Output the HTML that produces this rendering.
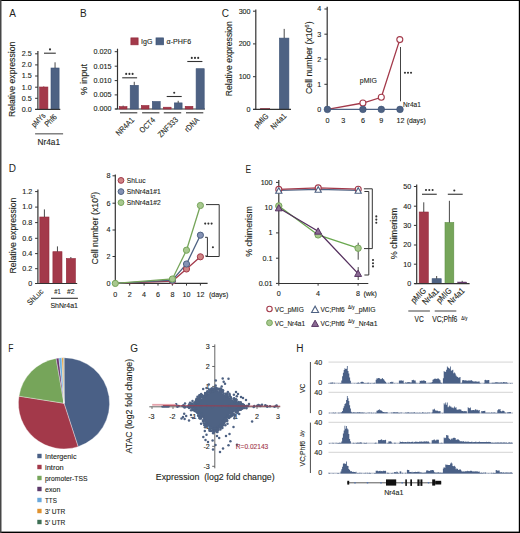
<!DOCTYPE html>
<html><head><meta charset="utf-8"><style>
html,body{margin:0;padding:0;background:#fff;}
svg{display:block;}
text{font-family:"Liberation Sans", sans-serif;}
</style></head><body>
<svg width="520" height="533" viewBox="0 0 520 533">
<rect x="0" y="0" width="520" height="533" fill="#fff"/>
<text x="9.2" y="17.2" font-size="10" text-anchor="start" fill="#231f20">A</text>
<text transform="translate(15.3 79.4) rotate(-90)" font-size="8.8" text-anchor="middle" fill="#231f20" textLength="75.3" lengthAdjust="spacingAndGlyphs" stroke="#231f20" stroke-width="0.12">Relative expression</text>
<line x1="37.9" y1="50.9" x2="37.9" y2="109.4" stroke="#333" stroke-width="1.2"/>
<line x1="35.1" y1="109.4" x2="37.9" y2="109.4" stroke="#333" stroke-width="1.0"/>
<text x="31.8" y="111.7" font-size="7.8" text-anchor="end" fill="#231f20" textLength="9.98" lengthAdjust="spacingAndGlyphs" stroke="#231f20" stroke-width="0.12">0.0</text>
<line x1="35.1" y1="98.3" x2="37.9" y2="98.3" stroke="#333" stroke-width="1.0"/>
<text x="31.8" y="100.6" font-size="7.8" text-anchor="end" fill="#231f20" textLength="9.98" lengthAdjust="spacingAndGlyphs" stroke="#231f20" stroke-width="0.12">0.5</text>
<line x1="35.1" y1="87.2" x2="37.9" y2="87.2" stroke="#333" stroke-width="1.0"/>
<text x="31.8" y="89.5" font-size="7.8" text-anchor="end" fill="#231f20" textLength="9.98" lengthAdjust="spacingAndGlyphs" stroke="#231f20" stroke-width="0.12">1.0</text>
<line x1="35.1" y1="76.0" x2="37.9" y2="76.0" stroke="#333" stroke-width="1.0"/>
<text x="31.8" y="78.3" font-size="7.8" text-anchor="end" fill="#231f20" textLength="9.98" lengthAdjust="spacingAndGlyphs" stroke="#231f20" stroke-width="0.12">1.5</text>
<line x1="35.1" y1="64.9" x2="37.9" y2="64.9" stroke="#333" stroke-width="1.0"/>
<text x="31.8" y="67.2" font-size="7.8" text-anchor="end" fill="#231f20" textLength="9.98" lengthAdjust="spacingAndGlyphs" stroke="#231f20" stroke-width="0.12">2.0</text>
<line x1="35.1" y1="53.8" x2="37.9" y2="53.8" stroke="#333" stroke-width="1.0"/>
<text x="31.8" y="56.099999999999994" font-size="7.8" text-anchor="end" fill="#231f20" textLength="9.98" lengthAdjust="spacingAndGlyphs" stroke="#231f20" stroke-width="0.12">2.5</text>
<rect x="39.6" y="87.0" width="8.30" height="22.40" fill="#a3394a" stroke="#93283b" stroke-width="0.6"/>
<line x1="43.75" y1="87" x2="43.75" y2="86.2" stroke="#93283b" stroke-width="0.7"/>
<rect x="51.0" y="68.0" width="8.10" height="41.40" fill="#4e6283" stroke="#3d5376" stroke-width="0.6"/>
<line x1="55.05" y1="68" x2="55.05" y2="62.3" stroke="#333" stroke-width="0.9"/>
<line x1="35.3" y1="109.4" x2="60.3" y2="109.4" stroke="#333" stroke-width="1.2"/>
<line x1="44" y1="53.2" x2="55.8" y2="53.2" stroke="#333" stroke-width="1.1"/>
<circle cx="50.0" cy="49.4" r="1.05" fill="#333"/>
<text transform="translate(45.9 116.2) rotate(-45)" font-size="8.0" text-anchor="end" fill="#231f20" textLength="16.2" lengthAdjust="spacingAndGlyphs" stroke="#231f20" stroke-width="0.12">pMYs</text>
<text transform="translate(57.4 117.6) rotate(-45)" font-size="8.0" text-anchor="end" fill="#231f20" textLength="13.8" lengthAdjust="spacingAndGlyphs" stroke="#231f20" stroke-width="0.12">Phf6</text>
<line x1="35.1" y1="133.8" x2="63.1" y2="133.8" stroke="#6d6d6d" stroke-width="1.3"/>
<text x="48.8" y="144.7" font-size="8.4" text-anchor="middle" fill="#231f20" textLength="22.6" lengthAdjust="spacingAndGlyphs" stroke="#231f20" stroke-width="0.12">Nr4a1</text>
<text x="80" y="17.2" font-size="10" text-anchor="start" fill="#231f20">B</text>
<rect x="130.9" y="37.9" width="7.20" height="6.90" fill="#a3394a" stroke="#93283b" stroke-width="0.7"/>
<text x="141" y="44.4" font-size="7.8" text-anchor="start" fill="#231f20" textLength="11.4" lengthAdjust="spacingAndGlyphs" stroke="#231f20" stroke-width="0.12">IgG</text>
<rect x="156.0" y="37.9" width="7.60" height="6.90" fill="#4e6283" stroke="#3d5376" stroke-width="0.7"/>
<text x="166.6" y="44.4" font-size="7.8" text-anchor="start" fill="#231f20" textLength="24.6" lengthAdjust="spacingAndGlyphs" stroke="#231f20" stroke-width="0.12">α-PHF6</text>
<text transform="translate(86.5 79.4) rotate(-90)" font-size="8.8" text-anchor="middle" fill="#231f20" textLength="31" lengthAdjust="spacingAndGlyphs" stroke="#231f20" stroke-width="0.12">% input</text>
<line x1="117.5" y1="48.7" x2="117.5" y2="109.0" stroke="#333" stroke-width="1.2"/>
<line x1="114.7" y1="109.0" x2="117.5" y2="109.0" stroke="#333" stroke-width="1.0"/>
<text x="111.4" y="111.3" font-size="7.8" text-anchor="end" fill="#231f20" textLength="17.96" lengthAdjust="spacingAndGlyphs" stroke="#231f20" stroke-width="0.12">0.000</text>
<line x1="114.7" y1="94.9" x2="117.5" y2="94.9" stroke="#333" stroke-width="1.0"/>
<text x="111.4" y="97.2" font-size="7.8" text-anchor="end" fill="#231f20" textLength="17.96" lengthAdjust="spacingAndGlyphs" stroke="#231f20" stroke-width="0.12">0.005</text>
<line x1="114.7" y1="80.6" x2="117.5" y2="80.6" stroke="#333" stroke-width="1.0"/>
<text x="111.4" y="82.89999999999999" font-size="7.8" text-anchor="end" fill="#231f20" textLength="17.96" lengthAdjust="spacingAndGlyphs" stroke="#231f20" stroke-width="0.12">0.010</text>
<line x1="114.7" y1="66.2" x2="117.5" y2="66.2" stroke="#333" stroke-width="1.0"/>
<text x="111.4" y="68.5" font-size="7.8" text-anchor="end" fill="#231f20" textLength="17.96" lengthAdjust="spacingAndGlyphs" stroke="#231f20" stroke-width="0.12">0.015</text>
<line x1="114.7" y1="51.7" x2="117.5" y2="51.7" stroke="#333" stroke-width="1.0"/>
<text x="111.4" y="54.0" font-size="7.8" text-anchor="end" fill="#231f20" textLength="17.96" lengthAdjust="spacingAndGlyphs" stroke="#231f20" stroke-width="0.12">0.020</text>
<line x1="115.3" y1="109.0" x2="205.0" y2="109.0" stroke="#333" stroke-width="1.2"/>
<rect x="119.3" y="106.6" width="7.70" height="2.40" fill="#a3394a" stroke="#93283b" stroke-width="0.6"/>
<rect x="130.2" y="85.3" width="8.10" height="23.70" fill="#4e6283" stroke="#3d5376" stroke-width="0.6"/>
<rect x="141.3" y="105.5" width="7.70" height="3.50" fill="#a3394a" stroke="#93283b" stroke-width="0.6"/>
<rect x="152.3" y="101.5" width="7.90" height="7.50" fill="#4e6283" stroke="#3d5376" stroke-width="0.6"/>
<rect x="163.5" y="107.2" width="7.60" height="1.80" fill="#a3394a" stroke="#93283b" stroke-width="0.6"/>
<rect x="174.3" y="102.9" width="7.80" height="6.10" fill="#4e6283" stroke="#3d5376" stroke-width="0.6"/>
<rect x="185.2" y="106.3" width="7.70" height="2.70" fill="#a3394a" stroke="#93283b" stroke-width="0.6"/>
<rect x="196.1" y="68.7" width="8.10" height="40.30" fill="#4e6283" stroke="#3d5376" stroke-width="0.6"/>
<line x1="134.25" y1="85.3" x2="134.25" y2="81.8" stroke="#333" stroke-width="0.9"/>
<line x1="178.2" y1="102.9" x2="178.2" y2="100.8" stroke="#333" stroke-width="0.9"/>
<line x1="123.15" y1="106.6" x2="123.15" y2="105.6" stroke="#333" stroke-width="0.9"/>
<line x1="122.2" y1="77.8" x2="137.1" y2="77.8" stroke="#333" stroke-width="1.1"/>
<circle cx="126.2" cy="73.9" r="1.05" fill="#333"/>
<circle cx="129.4" cy="73.9" r="1.05" fill="#333"/>
<circle cx="132.6" cy="73.9" r="1.05" fill="#333"/>
<line x1="166.7" y1="96.5" x2="181.7" y2="96.5" stroke="#333" stroke-width="1.1"/>
<circle cx="174.2" cy="92.8" r="1.05" fill="#333"/>
<line x1="187.3" y1="61.5" x2="202.4" y2="61.5" stroke="#333" stroke-width="1.1"/>
<circle cx="191.8" cy="57.9" r="1.05" fill="#333"/>
<circle cx="195.0" cy="57.9" r="1.05" fill="#333"/>
<circle cx="198.2" cy="57.9" r="1.05" fill="#333"/>
<line x1="120" y1="112.8" x2="137.3" y2="112.8" stroke="#333" stroke-width="1.1"/>
<line x1="142.1" y1="112.8" x2="159.4" y2="112.8" stroke="#333" stroke-width="1.1"/>
<line x1="163.8" y1="112.8" x2="181.2" y2="112.8" stroke="#333" stroke-width="1.1"/>
<line x1="186" y1="112.8" x2="203.3" y2="112.8" stroke="#333" stroke-width="1.1"/>
<text transform="translate(134.6 120.6) rotate(-45)" font-size="8.0" text-anchor="end" fill="#231f20" textLength="22.24" lengthAdjust="spacingAndGlyphs" stroke="#231f20" stroke-width="0.12">NR4A1</text>
<text transform="translate(155.6 120.6) rotate(-45)" font-size="8.0" text-anchor="end" fill="#231f20" textLength="18.4" lengthAdjust="spacingAndGlyphs" stroke="#231f20" stroke-width="0.12">OCT4</text>
<text transform="translate(178.6 120.2) rotate(-45)" font-size="8.0" text-anchor="end" fill="#231f20" textLength="24.93" lengthAdjust="spacingAndGlyphs" stroke="#231f20" stroke-width="0.12">ZNF333</text>
<text transform="translate(199.7 120.6) rotate(-45)" font-size="8.0" text-anchor="end" fill="#231f20" textLength="16.87" lengthAdjust="spacingAndGlyphs" stroke="#231f20" stroke-width="0.12">rDNA</text>
<text x="221.7" y="16.8" font-size="10" text-anchor="start" fill="#231f20">C</text>
<text transform="translate(232.0 58.8) rotate(-90)" font-size="8.8" text-anchor="middle" fill="#231f20" textLength="74.9" lengthAdjust="spacingAndGlyphs" stroke="#231f20" stroke-width="0.12">Relative expression</text>
<line x1="255.8" y1="9.4" x2="255.8" y2="109.4" stroke="#333" stroke-width="1.2"/>
<line x1="253.0" y1="109.4" x2="255.8" y2="109.4" stroke="#333" stroke-width="1.0"/>
<text x="250.6" y="111.7" font-size="7.8" text-anchor="end" fill="#231f20" textLength="3.99" lengthAdjust="spacingAndGlyphs" stroke="#231f20" stroke-width="0.12">0</text>
<line x1="253.0" y1="76.7" x2="255.8" y2="76.7" stroke="#333" stroke-width="1.0"/>
<text x="250.6" y="79.0" font-size="7.8" text-anchor="end" fill="#231f20" textLength="11.97" lengthAdjust="spacingAndGlyphs" stroke="#231f20" stroke-width="0.12">100</text>
<line x1="253.0" y1="43.9" x2="255.8" y2="43.9" stroke="#333" stroke-width="1.0"/>
<text x="250.6" y="46.199999999999996" font-size="7.8" text-anchor="end" fill="#231f20" textLength="11.97" lengthAdjust="spacingAndGlyphs" stroke="#231f20" stroke-width="0.12">200</text>
<line x1="253.0" y1="11.2" x2="255.8" y2="11.2" stroke="#333" stroke-width="1.0"/>
<text x="250.6" y="13.5" font-size="7.8" text-anchor="end" fill="#231f20" textLength="11.97" lengthAdjust="spacingAndGlyphs" stroke="#231f20" stroke-width="0.12">300</text>
<rect x="260.6" y="108.3" width="9.20" height="1.10" fill="#a3394a" stroke="#93283b" stroke-width="0.4"/>
<rect x="279.4" y="38.1" width="9.50" height="71.30" fill="#4e6283" stroke="#3d5376" stroke-width="0.6"/>
<line x1="284.2" y1="38.1" x2="284.2" y2="28.9" stroke="#333" stroke-width="0.9"/>
<line x1="253.2" y1="109.4" x2="291.0" y2="109.4" stroke="#333" stroke-width="1.2"/>
<text transform="translate(269.0 116.6) rotate(-45)" font-size="8.0" text-anchor="end" fill="#231f20" textLength="16.87" lengthAdjust="spacingAndGlyphs" stroke="#231f20" stroke-width="0.12">pMIG</text>
<text transform="translate(287.0 116.6) rotate(-45)" font-size="8.0" text-anchor="end" fill="#231f20" textLength="18.79" lengthAdjust="spacingAndGlyphs" stroke="#231f20" stroke-width="0.12">Nr4a1</text>
<text transform="translate(312.0 57.7) rotate(-90)" font-size="8.8" text-anchor="middle" fill="#231f20" textLength="72.6" lengthAdjust="spacingAndGlyphs" stroke="#231f20" stroke-width="0.12">Cell number (x10<tspan font-size="6" dy="-3">6</tspan><tspan dy="3">)</tspan></text>
<line x1="327.2" y1="6.7" x2="327.2" y2="109.4" stroke="#333" stroke-width="1.2"/>
<line x1="324.4" y1="109.4" x2="327.2" y2="109.4" stroke="#333" stroke-width="1.0"/>
<text x="321.2" y="111.7" font-size="7.8" text-anchor="end" fill="#231f20" textLength="3.99" lengthAdjust="spacingAndGlyphs" stroke="#231f20" stroke-width="0.12">0</text>
<line x1="324.4" y1="84.3" x2="327.2" y2="84.3" stroke="#333" stroke-width="1.0"/>
<text x="321.2" y="86.6" font-size="7.8" text-anchor="end" fill="#231f20" textLength="3.99" lengthAdjust="spacingAndGlyphs" stroke="#231f20" stroke-width="0.12">1</text>
<line x1="324.4" y1="59.2" x2="327.2" y2="59.2" stroke="#333" stroke-width="1.0"/>
<text x="321.2" y="61.5" font-size="7.8" text-anchor="end" fill="#231f20" textLength="3.99" lengthAdjust="spacingAndGlyphs" stroke="#231f20" stroke-width="0.12">2</text>
<line x1="324.4" y1="34.2" x2="327.2" y2="34.2" stroke="#333" stroke-width="1.0"/>
<text x="321.2" y="36.5" font-size="7.8" text-anchor="end" fill="#231f20" textLength="3.99" lengthAdjust="spacingAndGlyphs" stroke="#231f20" stroke-width="0.12">3</text>
<line x1="324.4" y1="9.0" x2="327.2" y2="9.0" stroke="#333" stroke-width="1.0"/>
<text x="321.2" y="11.3" font-size="7.8" text-anchor="end" fill="#231f20" textLength="3.99" lengthAdjust="spacingAndGlyphs" stroke="#231f20" stroke-width="0.12">4</text>
<text x="327.4" y="122.7" font-size="7.8" text-anchor="middle" fill="#231f20" textLength="3.99" lengthAdjust="spacingAndGlyphs" stroke="#231f20" stroke-width="0.12">0</text>
<text x="343.3" y="122.7" font-size="7.8" text-anchor="middle" fill="#231f20" textLength="3.99" lengthAdjust="spacingAndGlyphs" stroke="#231f20" stroke-width="0.12">3</text>
<text x="362.9" y="122.7" font-size="7.8" text-anchor="middle" fill="#231f20" textLength="3.99" lengthAdjust="spacingAndGlyphs" stroke="#231f20" stroke-width="0.12">6</text>
<text x="381.3" y="122.7" font-size="7.8" text-anchor="middle" fill="#231f20" textLength="3.99" lengthAdjust="spacingAndGlyphs" stroke="#231f20" stroke-width="0.12">9</text>
<text x="400.4" y="122.7" font-size="7.8" text-anchor="middle" fill="#231f20" textLength="7.98" lengthAdjust="spacingAndGlyphs" stroke="#231f20" stroke-width="0.12">12</text>
<text x="406.7" y="122.7" font-size="7.8" text-anchor="start" fill="#231f20" textLength="19" lengthAdjust="spacingAndGlyphs" stroke="#231f20" stroke-width="0.12">(days)</text>
<line x1="400.5" y1="47.0" x2="400.5" y2="101.3" stroke="#444" stroke-width="1.0"/>
<circle cx="404.95" cy="72.7" r="1.05" fill="#333"/>
<circle cx="408.0" cy="72.7" r="1.05" fill="#333"/>
<circle cx="411.05" cy="72.7" r="1.05" fill="#333"/>
<text x="368.3" y="82.9" font-size="8" text-anchor="middle" fill="#231f20" textLength="17" lengthAdjust="spacingAndGlyphs" stroke="#231f20" stroke-width="0.12">pMIG</text>
<text x="403.0" y="106.6" font-size="8" text-anchor="start" fill="#231f20" textLength="17.8" lengthAdjust="spacingAndGlyphs" stroke="#231f20" stroke-width="0.12">Nr4a1</text>
<polyline points="327.4,109.4 362.9,103.0 381.3,97.3 399.8,39.6" fill="none" stroke="#a3394a" stroke-width="1.3"/>
<line x1="327.4" y1="109.4" x2="400.4" y2="109.4" stroke="#4e6283" stroke-width="1.3"/>
<circle cx="362.9" cy="103.0" r="3.0" fill="#fff" stroke="#a3394a" stroke-width="1.1"/>
<circle cx="381.3" cy="97.3" r="3.0" fill="#fff" stroke="#a3394a" stroke-width="1.1"/>
<circle cx="399.8" cy="39.6" r="3.0" fill="#fff" stroke="#a3394a" stroke-width="1.1"/>
<circle cx="327.4" cy="109.4" r="3.3" fill="#4e6283" stroke="#3d5376" stroke-width="0.6"/>
<circle cx="362.9" cy="109.4" r="3.3" fill="#4e6283" stroke="#3d5376" stroke-width="0.6"/>
<circle cx="381.3" cy="109.4" r="3.3" fill="#4e6283" stroke="#3d5376" stroke-width="0.6"/>
<circle cx="400.0" cy="109.4" r="3.3" fill="#4e6283" stroke="#3d5376" stroke-width="0.6"/>
<text x="8.7" y="172.2" font-size="10" text-anchor="start" fill="#231f20">D</text>
<text transform="translate(15.8 235.6) rotate(-90)" font-size="8.8" text-anchor="middle" fill="#231f20" textLength="76" lengthAdjust="spacingAndGlyphs" stroke="#231f20" stroke-width="0.12">Relative expression</text>
<line x1="37.9" y1="189.6" x2="37.9" y2="283.5" stroke="#333" stroke-width="1.2"/>
<line x1="35.1" y1="283.5" x2="37.9" y2="283.5" stroke="#333" stroke-width="1.0"/>
<text x="32.2" y="285.8" font-size="7.8" text-anchor="end" fill="#231f20" textLength="3.99" lengthAdjust="spacingAndGlyphs" stroke="#231f20" stroke-width="0.12">0</text>
<line x1="35.1" y1="268.7" x2="37.9" y2="268.7" stroke="#333" stroke-width="1.0"/>
<text x="32.2" y="271.0" font-size="7.8" text-anchor="end" fill="#231f20" textLength="9.98" lengthAdjust="spacingAndGlyphs" stroke="#231f20" stroke-width="0.12">0.2</text>
<line x1="35.1" y1="253.6" x2="37.9" y2="253.6" stroke="#333" stroke-width="1.0"/>
<text x="32.2" y="255.9" font-size="7.8" text-anchor="end" fill="#231f20" textLength="9.98" lengthAdjust="spacingAndGlyphs" stroke="#231f20" stroke-width="0.12">0.4</text>
<line x1="35.1" y1="238.3" x2="37.9" y2="238.3" stroke="#333" stroke-width="1.0"/>
<text x="32.2" y="240.60000000000002" font-size="7.8" text-anchor="end" fill="#231f20" textLength="9.98" lengthAdjust="spacingAndGlyphs" stroke="#231f20" stroke-width="0.12">0.6</text>
<line x1="35.1" y1="222.6" x2="37.9" y2="222.6" stroke="#333" stroke-width="1.0"/>
<text x="32.2" y="224.9" font-size="7.8" text-anchor="end" fill="#231f20" textLength="9.98" lengthAdjust="spacingAndGlyphs" stroke="#231f20" stroke-width="0.12">0.8</text>
<line x1="35.1" y1="207.1" x2="37.9" y2="207.1" stroke="#333" stroke-width="1.0"/>
<text x="32.2" y="209.4" font-size="7.8" text-anchor="end" fill="#231f20" textLength="9.98" lengthAdjust="spacingAndGlyphs" stroke="#231f20" stroke-width="0.12">1.0</text>
<line x1="35.1" y1="191.6" x2="37.9" y2="191.6" stroke="#333" stroke-width="1.0"/>
<text x="32.2" y="193.9" font-size="7.8" text-anchor="end" fill="#231f20" textLength="9.98" lengthAdjust="spacingAndGlyphs" stroke="#231f20" stroke-width="0.12">1.2</text>
<rect x="39.8" y="217.0" width="9.20" height="66.50" fill="#a3394a" stroke="#93283b" stroke-width="0.6"/>
<line x1="44.4" y1="217.0" x2="44.4" y2="209.4" stroke="#333" stroke-width="0.9"/>
<rect x="52.9" y="251.7" width="9.10" height="31.80" fill="#a3394a" stroke="#93283b" stroke-width="0.6"/>
<line x1="57.45" y1="251.7" x2="57.45" y2="246.4" stroke="#333" stroke-width="0.9"/>
<rect x="66.3" y="258.5" width="9.10" height="25.00" fill="#a3394a" stroke="#93283b" stroke-width="0.6"/>
<line x1="70.85" y1="258.5" x2="70.85" y2="257.0" stroke="#333" stroke-width="0.9"/>
<line x1="35.5" y1="283.5" x2="77.2" y2="283.5" stroke="#333" stroke-width="1.2"/>
<text transform="translate(44.0 292.0) rotate(-45)" font-size="8.0" text-anchor="end" fill="#231f20" textLength="19.56" lengthAdjust="spacingAndGlyphs" stroke="#231f20" stroke-width="0.12">ShLuc</text>
<text x="57.5" y="294.0" font-size="7.8" text-anchor="middle" fill="#231f20" textLength="6.4" lengthAdjust="spacingAndGlyphs" stroke="#231f20" stroke-width="0.12">#1</text>
<text x="70.8" y="294.0" font-size="7.8" text-anchor="middle" fill="#231f20" textLength="7.6" lengthAdjust="spacingAndGlyphs" stroke="#231f20" stroke-width="0.12">#2</text>
<line x1="51.0" y1="298.3" x2="77.9" y2="298.3" stroke="#333" stroke-width="1.1"/>
<text x="64.2" y="308.3" font-size="8" text-anchor="middle" fill="#231f20" textLength="27.5" lengthAdjust="spacingAndGlyphs" stroke="#231f20" stroke-width="0.12">ShNr4a1</text>
<text transform="translate(98.2 228.1) rotate(-90)" font-size="8.8" text-anchor="middle" fill="#231f20" textLength="72.6" lengthAdjust="spacingAndGlyphs" stroke="#231f20" stroke-width="0.12">Cell number (x10<tspan font-size="6" dy="-3">5</tspan><tspan dy="3">)</tspan></text>
<line x1="115.3" y1="174.6" x2="115.3" y2="283.4" stroke="#333" stroke-width="1.2"/>
<line x1="112.5" y1="283.4" x2="115.3" y2="283.4" stroke="#333" stroke-width="1.0"/>
<text x="110.5" y="285.7" font-size="7.8" text-anchor="end" fill="#231f20" textLength="3.99" lengthAdjust="spacingAndGlyphs" stroke="#231f20" stroke-width="0.12">0</text>
<line x1="112.5" y1="256.5" x2="115.3" y2="256.5" stroke="#333" stroke-width="1.0"/>
<text x="110.5" y="258.8" font-size="7.8" text-anchor="end" fill="#231f20" textLength="3.99" lengthAdjust="spacingAndGlyphs" stroke="#231f20" stroke-width="0.12">2</text>
<line x1="112.5" y1="230.0" x2="115.3" y2="230.0" stroke="#333" stroke-width="1.0"/>
<text x="110.5" y="232.3" font-size="7.8" text-anchor="end" fill="#231f20" textLength="3.99" lengthAdjust="spacingAndGlyphs" stroke="#231f20" stroke-width="0.12">4</text>
<line x1="112.5" y1="203.2" x2="115.3" y2="203.2" stroke="#333" stroke-width="1.0"/>
<text x="110.5" y="205.5" font-size="7.8" text-anchor="end" fill="#231f20" textLength="3.99" lengthAdjust="spacingAndGlyphs" stroke="#231f20" stroke-width="0.12">6</text>
<line x1="112.5" y1="175.8" x2="115.3" y2="175.8" stroke="#333" stroke-width="1.0"/>
<text x="110.5" y="178.10000000000002" font-size="7.8" text-anchor="end" fill="#231f20" textLength="3.99" lengthAdjust="spacingAndGlyphs" stroke="#231f20" stroke-width="0.12">8</text>
<line x1="115.3" y1="283.4" x2="207.6" y2="283.4" stroke="#333" stroke-width="1.2"/>
<line x1="115.3" y1="283.4" x2="115.3" y2="285.6" stroke="#333" stroke-width="1.0"/>
<text x="115.3" y="297.0" font-size="7.8" text-anchor="middle" fill="#231f20" textLength="3.99" lengthAdjust="spacingAndGlyphs" stroke="#231f20" stroke-width="0.12">0</text>
<line x1="129.7" y1="283.4" x2="129.7" y2="285.6" stroke="#333" stroke-width="1.0"/>
<text x="129.7" y="297.0" font-size="7.8" text-anchor="middle" fill="#231f20" textLength="3.99" lengthAdjust="spacingAndGlyphs" stroke="#231f20" stroke-width="0.12">2</text>
<line x1="144.1" y1="283.4" x2="144.1" y2="285.6" stroke="#333" stroke-width="1.0"/>
<text x="144.1" y="297.0" font-size="7.8" text-anchor="middle" fill="#231f20" textLength="3.99" lengthAdjust="spacingAndGlyphs" stroke="#231f20" stroke-width="0.12">4</text>
<line x1="158.0" y1="283.4" x2="158.0" y2="285.6" stroke="#333" stroke-width="1.0"/>
<text x="158.0" y="297.0" font-size="7.8" text-anchor="middle" fill="#231f20" textLength="3.99" lengthAdjust="spacingAndGlyphs" stroke="#231f20" stroke-width="0.12">6</text>
<line x1="172.4" y1="283.4" x2="172.4" y2="285.6" stroke="#333" stroke-width="1.0"/>
<text x="172.4" y="297.0" font-size="7.8" text-anchor="middle" fill="#231f20" textLength="3.99" lengthAdjust="spacingAndGlyphs" stroke="#231f20" stroke-width="0.12">8</text>
<line x1="186.5" y1="283.4" x2="186.5" y2="285.6" stroke="#333" stroke-width="1.0"/>
<text x="186.5" y="297.0" font-size="7.8" text-anchor="middle" fill="#231f20" textLength="7.98" lengthAdjust="spacingAndGlyphs" stroke="#231f20" stroke-width="0.12">10</text>
<line x1="200.4" y1="283.4" x2="200.4" y2="285.6" stroke="#333" stroke-width="1.0"/>
<text x="200.4" y="297.0" font-size="7.8" text-anchor="middle" fill="#231f20" textLength="7.98" lengthAdjust="spacingAndGlyphs" stroke="#231f20" stroke-width="0.12">12</text>
<text x="209.0" y="297.0" font-size="7.8" text-anchor="start" fill="#231f20" textLength="19.4" lengthAdjust="spacingAndGlyphs" stroke="#231f20" stroke-width="0.12">(days)</text>
<polyline points="115.3,283.4 172.4,281.0 186.5,269.0 200.4,256.8" fill="none" stroke="#a3394a" stroke-width="1.3"/>
<polyline points="115.3,283.4 172.4,280.2 186.5,264.0 200.4,235.2" fill="none" stroke="#4e6283" stroke-width="1.3"/>
<polyline points="115.3,283.4 172.4,279.0 186.5,250.2 200.4,205.5" fill="none" stroke="#76a55a" stroke-width="1.3"/>
<circle cx="172.4" cy="281.0" r="3.1" fill="#cf8585" stroke="#a3394a" stroke-width="1.0"/>
<circle cx="186.5" cy="269.0" r="3.1" fill="#cf8585" stroke="#a3394a" stroke-width="1.0"/>
<circle cx="200.4" cy="256.8" r="3.1" fill="#cf8585" stroke="#a3394a" stroke-width="1.0"/>
<circle cx="172.4" cy="280.2" r="3.1" fill="#8592b4" stroke="#4e6283" stroke-width="1.0"/>
<circle cx="186.5" cy="264.0" r="3.1" fill="#8592b4" stroke="#4e6283" stroke-width="1.0"/>
<circle cx="200.4" cy="235.2" r="3.1" fill="#8592b4" stroke="#4e6283" stroke-width="1.0"/>
<circle cx="172.4" cy="279.0" r="3.1" fill="#a8c88f" stroke="#76a55a" stroke-width="1.0"/>
<circle cx="186.5" cy="250.2" r="3.1" fill="#a8c88f" stroke="#76a55a" stroke-width="1.0"/>
<circle cx="200.4" cy="205.5" r="3.1" fill="#a8c88f" stroke="#76a55a" stroke-width="1.0"/>
<circle cx="115.3" cy="283.4" r="3.1" fill="#a8c88f" stroke="#76a55a" stroke-width="1.0"/>
<circle cx="121.0" cy="180.4" r="2.9" fill="#cf8585" stroke="#a3394a" stroke-width="1.0"/>
<text x="126.8" y="183.20000000000002" font-size="7.8" text-anchor="start" fill="#231f20" textLength="18.8" lengthAdjust="spacingAndGlyphs" stroke="#231f20" stroke-width="0.12">ShLuc</text>
<circle cx="121.0" cy="191.6" r="2.9" fill="#8592b4" stroke="#4e6283" stroke-width="1.0"/>
<text x="126.8" y="194.4" font-size="7.8" text-anchor="start" fill="#231f20" textLength="33.8" lengthAdjust="spacingAndGlyphs" stroke="#231f20" stroke-width="0.12">ShNr4a1#1</text>
<circle cx="121.0" cy="202.6" r="2.9" fill="#a8c88f" stroke="#76a55a" stroke-width="1.0"/>
<text x="126.8" y="205.4" font-size="7.8" text-anchor="start" fill="#231f20" textLength="33.8" lengthAdjust="spacingAndGlyphs" stroke="#231f20" stroke-width="0.12">ShNr4a1#2</text>
<polyline points="206,204.6 219.2,204.6 219.2,256.5 206,256.5" fill="none" stroke="#333" stroke-width="1"/>
<polyline points="205.1,237.3 207.4,237.3 207.4,256.0 205.1,256.0" fill="none" stroke="#333" stroke-width="1"/>
<circle cx="205.20000000000002" cy="223.6" r="1.05" fill="#333"/>
<circle cx="208.4" cy="223.6" r="1.05" fill="#333"/>
<circle cx="211.6" cy="223.6" r="1.05" fill="#333"/>
<circle cx="212.9" cy="247.2" r="1.05" fill="#333"/>
<text x="245.6" y="172.5" font-size="10" text-anchor="start" fill="#231f20" textLength="5.6" lengthAdjust="spacingAndGlyphs">E</text>
<text transform="translate(251.8 231.5) rotate(-90)" font-size="9.2" text-anchor="middle" fill="#231f20" textLength="50.7" lengthAdjust="spacingAndGlyphs" stroke="#231f20" stroke-width="0.12">% chimerism</text>
<line x1="278.8" y1="180.0" x2="278.8" y2="283.4" stroke="#333" stroke-width="1.2"/>
<line x1="276.0" y1="283.4" x2="278.8" y2="283.4" stroke="#333" stroke-width="1.0"/>
<text x="272.6" y="285.7" font-size="7.8" text-anchor="end" fill="#231f20" textLength="13.97" lengthAdjust="spacingAndGlyphs" stroke="#231f20" stroke-width="0.12">0.01</text>
<line x1="276.0" y1="258.2" x2="278.8" y2="258.2" stroke="#333" stroke-width="1.0"/>
<text x="272.6" y="260.5" font-size="7.8" text-anchor="end" fill="#231f20" textLength="9.98" lengthAdjust="spacingAndGlyphs" stroke="#231f20" stroke-width="0.12">0.1</text>
<line x1="276.0" y1="232.9" x2="278.8" y2="232.9" stroke="#333" stroke-width="1.0"/>
<text x="272.6" y="235.20000000000002" font-size="7.8" text-anchor="end" fill="#231f20" textLength="3.99" lengthAdjust="spacingAndGlyphs" stroke="#231f20" stroke-width="0.12">1</text>
<line x1="276.0" y1="207.8" x2="278.8" y2="207.8" stroke="#333" stroke-width="1.0"/>
<text x="272.6" y="210.10000000000002" font-size="7.8" text-anchor="end" fill="#231f20" textLength="7.98" lengthAdjust="spacingAndGlyphs" stroke="#231f20" stroke-width="0.12">10</text>
<line x1="276.0" y1="182.4" x2="278.8" y2="182.4" stroke="#333" stroke-width="1.0"/>
<text x="272.6" y="184.70000000000002" font-size="7.8" text-anchor="end" fill="#231f20" textLength="11.97" lengthAdjust="spacingAndGlyphs" stroke="#231f20" stroke-width="0.12">100</text>
<line x1="278.8" y1="283.5" x2="368.3" y2="283.5" stroke="#333" stroke-width="1.2"/>
<line x1="278.8" y1="283.5" x2="278.8" y2="285.7" stroke="#333" stroke-width="1.0"/>
<text x="278.8" y="296.2" font-size="7.8" text-anchor="middle" fill="#231f20" textLength="3.99" lengthAdjust="spacingAndGlyphs" stroke="#231f20" stroke-width="0.12">0</text>
<line x1="318.1" y1="283.5" x2="318.1" y2="285.7" stroke="#333" stroke-width="1.0"/>
<text x="318.1" y="296.2" font-size="7.8" text-anchor="middle" fill="#231f20" textLength="3.99" lengthAdjust="spacingAndGlyphs" stroke="#231f20" stroke-width="0.12">4</text>
<line x1="358.1" y1="283.5" x2="358.1" y2="285.7" stroke="#333" stroke-width="1.0"/>
<text x="358.1" y="296.2" font-size="7.8" text-anchor="middle" fill="#231f20" textLength="3.99" lengthAdjust="spacingAndGlyphs" stroke="#231f20" stroke-width="0.12">8</text>
<text x="363.4" y="296.2" font-size="7.8" text-anchor="start" fill="#231f20" textLength="13.6" lengthAdjust="spacingAndGlyphs" stroke="#231f20" stroke-width="0.12">(wk)</text>
<line x1="358.2" y1="242.7" x2="358.2" y2="259.7" stroke="#333" stroke-width="0.9"/>
<line x1="358.2" y1="267.1" x2="358.2" y2="280.0" stroke="#333" stroke-width="0.9"/>
<polyline points="278.8,190.4 318.2,189.4 358.2,190.4" fill="none" stroke="#4e6283" stroke-width="1.3"/>
<polyline points="278.8,189.4 318.2,187.9 358.2,189.2" fill="none" stroke="#a3394a" stroke-width="1.3"/>
<polyline points="278.8,205.9 318.1,234.9 358.1,248.2" fill="none" stroke="#6aa84f" stroke-width="1.3"/>
<polyline points="278.8,208.0 318.1,231.3 358.1,273.6" fill="none" stroke="#55305e" stroke-width="1.3"/>
<circle cx="278.8" cy="205.9" r="3.2" fill="#a8c88f" stroke="#76a55a" stroke-width="1.0"/>
<circle cx="318.1" cy="234.9" r="3.2" fill="#a8c88f" stroke="#76a55a" stroke-width="1.0"/>
<circle cx="358.1" cy="248.2" r="3.2" fill="#a8c88f" stroke="#76a55a" stroke-width="1.0"/>
<polygon points="275.30,210.85 282.30,210.85 278.80,204.55" fill="#8a6a93" stroke="#4f2a5a" stroke-width="0.9"/>
<polygon points="314.60,234.15 321.60,234.15 318.10,227.85" fill="#8a6a93" stroke="#4f2a5a" stroke-width="0.9"/>
<polygon points="354.60,276.45 361.60,276.45 358.10,270.15" fill="#8a6a93" stroke="#4f2a5a" stroke-width="0.9"/>
<circle cx="278.8" cy="189.4" r="3.0" fill="#fff" stroke="#a3394a" stroke-width="1.1"/>
<circle cx="318.2" cy="187.9" r="3.0" fill="#fff" stroke="#a3394a" stroke-width="1.1"/>
<circle cx="358.2" cy="189.2" r="3.0" fill="#fff" stroke="#a3394a" stroke-width="1.1"/>
<polygon points="275.70,193.19 281.90,193.19 278.80,187.61" fill="#fff" stroke="#4e6283" stroke-width="1.1"/>
<polygon points="315.10,192.19 321.30,192.19 318.20,186.61" fill="#fff" stroke="#4e6283" stroke-width="1.1"/>
<polygon points="355.10,193.19 361.30,193.19 358.20,187.61" fill="#fff" stroke="#4e6283" stroke-width="1.1"/>
<polyline points="363.9,188.8 372.3,188.8 372.3,248.6 364.0,248.6" fill="none" stroke="#333" stroke-width="1"/>
<polyline points="364.4,191.5 368.8,191.5 368.8,275.0 364.4,275.0" fill="none" stroke="#333" stroke-width="1"/>
<circle cx="376.3" cy="216.4" r="1.05" fill="#333"/>
<circle cx="376.3" cy="219.6" r="1.05" fill="#333"/>
<circle cx="376.3" cy="222.79999999999998" r="1.05" fill="#333"/>
<circle cx="373.0" cy="260.0" r="1.05" fill="#333"/>
<circle cx="373.0" cy="263.2" r="1.05" fill="#333"/>
<circle cx="373.0" cy="266.4" r="1.05" fill="#333"/>
<circle cx="269.5" cy="309.0" r="2.7" fill="#fff" stroke="#a3394a" stroke-width="1.1"/>
<text x="274.8" y="311.8" font-size="7.8" text-anchor="start" fill="#231f20" textLength="29" lengthAdjust="spacingAndGlyphs" stroke="#231f20" stroke-width="0.12">VC_pMIG</text>
<polygon points="311.60,312.55 318.60,312.55 315.10,306.25" fill="#fff" stroke="#4e6283" stroke-width="1.1"/>
<text x="320.5" y="312.0" font-size="7.8" text-anchor="start" fill="#231f20" textLength="24.2" lengthAdjust="spacingAndGlyphs" stroke="#231f20" stroke-width="0.12">VC;Phf6</text>
<text x="348.0" y="308.6" font-size="4.8" text-anchor="start" fill="#231f20" textLength="6.5" lengthAdjust="spacingAndGlyphs" stroke="#231f20" stroke-width="0.12">Δ/y</text>
<text x="355.0" y="312.0" font-size="7.8" text-anchor="start" fill="#231f20" textLength="20.5" lengthAdjust="spacingAndGlyphs" stroke="#231f20" stroke-width="0.12">_pMIG</text>
<circle cx="269.5" cy="322.8" r="2.9" fill="#a8c88f" stroke="#76a55a" stroke-width="1.0"/>
<text x="274.8" y="325.6" font-size="7.8" text-anchor="start" fill="#231f20" textLength="30.2" lengthAdjust="spacingAndGlyphs" stroke="#231f20" stroke-width="0.12">VC_Nr4a1</text>
<polygon points="311.60,326.45 318.60,326.45 315.10,320.15" fill="#8a6a93" stroke="#4f2a5a" stroke-width="0.9"/>
<text x="320.5" y="326.0" font-size="7.8" text-anchor="start" fill="#231f20" textLength="24.2" lengthAdjust="spacingAndGlyphs" stroke="#231f20" stroke-width="0.12">VC;Phf6</text>
<text x="348.0" y="322.6" font-size="4.8" text-anchor="start" fill="#231f20" textLength="6.5" lengthAdjust="spacingAndGlyphs" stroke="#231f20" stroke-width="0.12">Δ/y</text>
<text x="355.0" y="326.0" font-size="7.8" text-anchor="start" fill="#231f20" textLength="22.5" lengthAdjust="spacingAndGlyphs" stroke="#231f20" stroke-width="0.12">_Nr4a1</text>
<text transform="translate(396.8 233.5) rotate(-90)" font-size="9.2" text-anchor="middle" fill="#231f20" textLength="51.3" lengthAdjust="spacingAndGlyphs" stroke="#231f20" stroke-width="0.12">% chimerism</text>
<line x1="416.7" y1="184.6" x2="416.7" y2="283.6" stroke="#333" stroke-width="1.2"/>
<line x1="413.9" y1="283.6" x2="416.7" y2="283.6" stroke="#333" stroke-width="1.0"/>
<text x="411.2" y="285.90000000000003" font-size="7.8" text-anchor="end" fill="#231f20" textLength="3.99" lengthAdjust="spacingAndGlyphs" stroke="#231f20" stroke-width="0.12">0</text>
<line x1="413.9" y1="264.2" x2="416.7" y2="264.2" stroke="#333" stroke-width="1.0"/>
<text x="411.2" y="266.5" font-size="7.8" text-anchor="end" fill="#231f20" textLength="7.98" lengthAdjust="spacingAndGlyphs" stroke="#231f20" stroke-width="0.12">10</text>
<line x1="413.9" y1="245.0" x2="416.7" y2="245.0" stroke="#333" stroke-width="1.0"/>
<text x="411.2" y="247.3" font-size="7.8" text-anchor="end" fill="#231f20" textLength="7.98" lengthAdjust="spacingAndGlyphs" stroke="#231f20" stroke-width="0.12">20</text>
<line x1="413.9" y1="225.4" x2="416.7" y2="225.4" stroke="#333" stroke-width="1.0"/>
<text x="411.2" y="227.70000000000002" font-size="7.8" text-anchor="end" fill="#231f20" textLength="7.98" lengthAdjust="spacingAndGlyphs" stroke="#231f20" stroke-width="0.12">30</text>
<line x1="413.9" y1="206.2" x2="416.7" y2="206.2" stroke="#333" stroke-width="1.0"/>
<text x="411.2" y="208.5" font-size="7.8" text-anchor="end" fill="#231f20" textLength="7.98" lengthAdjust="spacingAndGlyphs" stroke="#231f20" stroke-width="0.12">40</text>
<line x1="413.9" y1="186.5" x2="416.7" y2="186.5" stroke="#333" stroke-width="1.0"/>
<text x="411.2" y="188.8" font-size="7.8" text-anchor="end" fill="#231f20" textLength="7.98" lengthAdjust="spacingAndGlyphs" stroke="#231f20" stroke-width="0.12">50</text>
<rect x="419.2" y="212.0" width="9.10" height="71.60" fill="#a3394a" stroke="#93283b" stroke-width="0.6"/>
<line x1="423.75" y1="212.0" x2="423.75" y2="202.3" stroke="#333" stroke-width="0.9"/>
<rect x="432.1" y="278.7" width="9.10" height="4.90" fill="#4e6283" stroke="#3d5376" stroke-width="0.6"/>
<line x1="436.65" y1="278.7" x2="436.65" y2="276.0" stroke="#333" stroke-width="0.9"/>
<rect x="445.0" y="222.5" width="8.80" height="61.10" fill="#76a55a" stroke="#5f8f45" stroke-width="0.6"/>
<line x1="449.4" y1="222.5" x2="449.4" y2="200.8" stroke="#333" stroke-width="0.9"/>
<rect x="457.7" y="282.0" width="9.00" height="1.60" fill="#6b3f73" stroke="#55305e" stroke-width="0.4"/>
<line x1="462.2" y1="282.0" x2="462.2" y2="280.8" stroke="#333" stroke-width="0.9"/>
<line x1="414.5" y1="283.7" x2="469.6" y2="283.7" stroke="#333" stroke-width="1.2"/>
<line x1="422.0" y1="194.25" x2="436.75" y2="194.25" stroke="#333" stroke-width="1.1"/>
<circle cx="426.0" cy="190.0" r="1.05" fill="#333"/>
<circle cx="429.3" cy="190.0" r="1.05" fill="#333"/>
<circle cx="432.6" cy="190.0" r="1.05" fill="#333"/>
<line x1="447.8" y1="194.25" x2="462.7" y2="194.25" stroke="#333" stroke-width="1.1"/>
<circle cx="454.3" cy="190.5" r="1.05" fill="#333"/>
<text transform="translate(426.6 291.3) rotate(-45)" font-size="8.6" text-anchor="end" fill="#231f20" textLength="17.6" lengthAdjust="spacingAndGlyphs" stroke="#231f20" stroke-width="0.12">pMIG</text>
<text transform="translate(439.6 291.3) rotate(-45)" font-size="8.6" text-anchor="end" fill="#231f20" textLength="19.61" lengthAdjust="spacingAndGlyphs" stroke="#231f20" stroke-width="0.12">Nr4a1</text>
<text transform="translate(452.2 291.3) rotate(-45)" font-size="8.6" text-anchor="end" fill="#231f20" textLength="17.6" lengthAdjust="spacingAndGlyphs" stroke="#231f20" stroke-width="0.12">pMIG</text>
<text transform="translate(465.2 291.3) rotate(-45)" font-size="8.6" text-anchor="end" fill="#231f20" textLength="19.61" lengthAdjust="spacingAndGlyphs" stroke="#231f20" stroke-width="0.12">Nr4a1</text>
<line x1="408.3" y1="311.0" x2="429.9" y2="311.0" stroke="#6d6d6d" stroke-width="1.3"/>
<line x1="434.7" y1="311.0" x2="456.3" y2="311.0" stroke="#6d6d6d" stroke-width="1.3"/>
<text x="419.2" y="322.0" font-size="8.2" text-anchor="middle" fill="#231f20" textLength="9.2" lengthAdjust="spacingAndGlyphs" stroke="#231f20" stroke-width="0.12">VC</text>
<text x="432.2" y="322.0" font-size="8.2" text-anchor="start" fill="#231f20" textLength="25.2" lengthAdjust="spacingAndGlyphs" stroke="#231f20" stroke-width="0.12">VC;Phf6</text>
<text x="461.2" y="319.5" font-size="4.8" text-anchor="start" fill="#231f20" textLength="6.1" lengthAdjust="spacingAndGlyphs" stroke="#231f20" stroke-width="0.12">Δ/y</text>
<text x="8.3" y="352.0" font-size="10" text-anchor="start" fill="#231f20" textLength="5.2" lengthAdjust="spacingAndGlyphs">F</text>
<path d="M64.0,403.3 L64.00,357.70 A45.6,45.6 0 0 1 78.09,446.67 Z" fill="#4a6086" stroke="#fff" stroke-width="0.35" stroke-linejoin="round"/>
<path d="M64.0,403.3 L78.09,446.67 A45.6,45.6 0 0 1 18.96,396.17 Z" fill="#a3394a" stroke="#fff" stroke-width="0.35" stroke-linejoin="round"/>
<path d="M64.0,403.3 L18.96,396.17 A45.6,45.6 0 0 1 56.08,358.39 Z" fill="#76a55a" stroke="#fff" stroke-width="0.35" stroke-linejoin="round"/>
<path d="M64.0,403.3 L56.08,358.39 A45.6,45.6 0 0 1 58.92,357.98 Z" fill="#6b3a70" stroke="#fff" stroke-width="0.35" stroke-linejoin="round"/>
<path d="M64.0,403.3 L58.92,357.98 A45.6,45.6 0 0 1 61.85,357.75 Z" fill="#6aaee0" stroke="#fff" stroke-width="0.35" stroke-linejoin="round"/>
<path d="M64.0,403.3 L61.85,357.75 A45.6,45.6 0 0 1 63.68,357.70 Z" fill="#e6992f" stroke="#fff" stroke-width="0.35" stroke-linejoin="round"/>
<path d="M64.0,403.3 L63.68,357.70 A45.6,45.6 0 0 1 64.00,357.70 Z" fill="#3f7356" stroke="#fff" stroke-width="0.35" stroke-linejoin="round"/>
<rect x="37.3" y="453.8" width="4.30" height="4.40" fill="#4a6086"/>
<text x="45.0" y="458.7" font-size="7.6" text-anchor="start" fill="#231f20" textLength="31.5" lengthAdjust="spacingAndGlyphs" stroke="#231f20" stroke-width="0.12">Intergenic</text>
<rect x="37.3" y="464.8" width="4.30" height="4.40" fill="#a3394a"/>
<text x="45.0" y="469.7" font-size="7.6" text-anchor="start" fill="#231f20" textLength="18.7" lengthAdjust="spacingAndGlyphs" stroke="#231f20" stroke-width="0.12">intron</text>
<rect x="37.3" y="475.8" width="4.30" height="4.40" fill="#76a55a"/>
<text x="45.0" y="480.7" font-size="7.6" text-anchor="start" fill="#231f20" textLength="42.4" lengthAdjust="spacingAndGlyphs" stroke="#231f20" stroke-width="0.12">promoter-TSS</text>
<rect x="37.3" y="486.8" width="4.30" height="4.40" fill="#5d3a6b"/>
<text x="45.0" y="491.7" font-size="7.6" text-anchor="start" fill="#231f20" textLength="15.4" lengthAdjust="spacingAndGlyphs" stroke="#231f20" stroke-width="0.12">exon</text>
<rect x="37.3" y="497.8" width="4.30" height="4.40" fill="#6aa8dc"/>
<text x="45.0" y="502.7" font-size="7.6" text-anchor="start" fill="#231f20" textLength="11.8" lengthAdjust="spacingAndGlyphs" stroke="#231f20" stroke-width="0.12">TTS</text>
<rect x="37.3" y="508.8" width="4.30" height="4.40" fill="#e0922f"/>
<text x="45.0" y="513.7" font-size="7.6" text-anchor="start" fill="#231f20" textLength="20.3" lengthAdjust="spacingAndGlyphs" stroke="#231f20" stroke-width="0.12">3’ UTR</text>
<rect x="37.3" y="519.8" width="4.30" height="4.40" fill="#3e7055"/>
<text x="45.0" y="524.7" font-size="7.6" text-anchor="start" fill="#231f20" textLength="20.3" lengthAdjust="spacingAndGlyphs" stroke="#231f20" stroke-width="0.12">5’ UTR</text>
<text x="130.2" y="351.7" font-size="10" text-anchor="start" fill="#231f20">G</text>
<text transform="translate(132.1 406.2) rotate(-90)" font-size="9.5" text-anchor="middle" fill="#231f20" textLength="94.5" lengthAdjust="spacingAndGlyphs" stroke="#231f20" stroke-width="0.12">ATAC (log2 fold change)</text>
<text x="215.2" y="480.2" font-size="9.5" text-anchor="middle" fill="#231f20" textLength="118.8" lengthAdjust="spacingAndGlyphs" stroke="#231f20" stroke-width="0.12">Expression&#160; (log2 fold change)</text>
<line x1="214.8" y1="344.4" x2="214.8" y2="468.3" stroke="#555" stroke-width="0.9"/>
<line x1="212.2" y1="346.49" x2="214.8" y2="346.49" stroke="#555" stroke-width="0.9"/>
<line x1="212.2" y1="366.46" x2="214.8" y2="366.46" stroke="#555" stroke-width="0.9"/>
<line x1="212.2" y1="386.42999999999995" x2="214.8" y2="386.42999999999995" stroke="#555" stroke-width="0.9"/>
<line x1="212.2" y1="426.37" x2="214.8" y2="426.37" stroke="#555" stroke-width="0.9"/>
<line x1="212.2" y1="446.34" x2="214.8" y2="446.34" stroke="#555" stroke-width="0.9"/>
<line x1="212.2" y1="466.30999999999995" x2="214.8" y2="466.30999999999995" stroke="#555" stroke-width="0.9"/>
<line x1="149.3" y1="406.8" x2="280.2" y2="406.8" stroke="#555" stroke-width="0.9"/>
<line x1="152.0" y1="406.8" x2="152.0" y2="409.0" stroke="#555" stroke-width="0.8"/>
<line x1="173.0" y1="406.8" x2="173.0" y2="409.0" stroke="#555" stroke-width="0.8"/>
<line x1="194.0" y1="406.8" x2="194.0" y2="409.0" stroke="#555" stroke-width="0.8"/>
<line x1="236.0" y1="406.8" x2="236.0" y2="409.0" stroke="#555" stroke-width="0.8"/>
<line x1="257.0" y1="406.8" x2="257.0" y2="409.0" stroke="#555" stroke-width="0.8"/>
<line x1="278.0" y1="406.8" x2="278.0" y2="409.0" stroke="#555" stroke-width="0.8"/>
<text x="151.4" y="418.6" font-size="7.8" text-anchor="middle" fill="#231f20" textLength="6.38" lengthAdjust="spacingAndGlyphs" stroke="#231f20" stroke-width="0.12">-3</text>
<text x="172.4" y="418.6" font-size="7.8" text-anchor="middle" fill="#231f20" textLength="6.38" lengthAdjust="spacingAndGlyphs" stroke="#231f20" stroke-width="0.12">-2</text>
<text x="193.4" y="418.6" font-size="7.8" text-anchor="middle" fill="#231f20" textLength="6.38" lengthAdjust="spacingAndGlyphs" stroke="#231f20" stroke-width="0.12">-1</text>
<text x="236.0" y="418.6" font-size="7.8" text-anchor="middle" fill="#231f20" textLength="3.99" lengthAdjust="spacingAndGlyphs" stroke="#231f20" stroke-width="0.12">1</text>
<text x="257.0" y="418.6" font-size="7.8" text-anchor="middle" fill="#231f20" textLength="3.99" lengthAdjust="spacingAndGlyphs" stroke="#231f20" stroke-width="0.12">2</text>
<text x="278.0" y="418.6" font-size="7.8" text-anchor="middle" fill="#231f20" textLength="3.99" lengthAdjust="spacingAndGlyphs" stroke="#231f20" stroke-width="0.12">3</text>
<text x="209.8" y="348.99" font-size="7.8" text-anchor="end" fill="#231f20" textLength="3.99" lengthAdjust="spacingAndGlyphs" stroke="#231f20" stroke-width="0.12">3</text>
<text x="209.8" y="368.96" font-size="7.8" text-anchor="end" fill="#231f20" textLength="3.99" lengthAdjust="spacingAndGlyphs" stroke="#231f20" stroke-width="0.12">2</text>
<text x="209.8" y="388.92999999999995" font-size="7.8" text-anchor="end" fill="#231f20" textLength="3.99" lengthAdjust="spacingAndGlyphs" stroke="#231f20" stroke-width="0.12">1</text>
<text x="209.8" y="428.87" font-size="7.8" text-anchor="end" fill="#231f20" textLength="6.38" lengthAdjust="spacingAndGlyphs" stroke="#231f20" stroke-width="0.12">-1</text>
<text x="209.8" y="448.84" font-size="7.8" text-anchor="end" fill="#231f20" textLength="6.38" lengthAdjust="spacingAndGlyphs" stroke="#231f20" stroke-width="0.12">-2</text>
<text x="209.8" y="468.80999999999995" font-size="7.8" text-anchor="end" fill="#231f20" textLength="6.38" lengthAdjust="spacingAndGlyphs" stroke="#231f20" stroke-width="0.12">-3</text>
<polygon points="214.8,389.7 217.1,390.2 227.3,395.9 235.2,401.6 240.9,404.5 245.0,406.7 237.4,409.5 229.4,415.1 223.9,420.9 219.4,427.6 214.8,429.8 206.8,425.3 202.4,417.4 199.0,411.8 194.5,408.3 191.2,406.6 196.7,402.8 204.7,395.9" fill="#4e6283"/>
<g fill="#4e6283">
<circle cx="233.8" cy="398.9" r="1.25"/>
<circle cx="232.5" cy="415.1" r="1.25"/>
<circle cx="216.1" cy="390.7" r="1.25"/>
<circle cx="220.8" cy="427.4" r="1.25"/>
<circle cx="238.4" cy="409.2" r="1.25"/>
<circle cx="220.2" cy="389.6" r="1.25"/>
<circle cx="228.5" cy="417.4" r="1.25"/>
<circle cx="235.2" cy="402.0" r="1.25"/>
<circle cx="242.1" cy="408.8" r="1.25"/>
<circle cx="230.2" cy="416.5" r="1.25"/>
<circle cx="195.2" cy="408.1" r="1.25"/>
<circle cx="212.0" cy="428.3" r="1.25"/>
<circle cx="201.0" cy="418.4" r="1.25"/>
<circle cx="200.1" cy="415.3" r="1.25"/>
<circle cx="199.2" cy="413.1" r="1.25"/>
<circle cx="196.4" cy="400.8" r="1.25"/>
<circle cx="221.8" cy="389.8" r="1.25"/>
<circle cx="195.5" cy="403.0" r="1.25"/>
<circle cx="236.9" cy="412.0" r="1.25"/>
<circle cx="198.9" cy="399.5" r="1.25"/>
<circle cx="241.3" cy="403.8" r="1.25"/>
<circle cx="205.4" cy="424.5" r="1.25"/>
<circle cx="204.4" cy="425.2" r="1.25"/>
<circle cx="239.8" cy="409.4" r="1.25"/>
<circle cx="215.5" cy="387.7" r="1.25"/>
<circle cx="236.0" cy="401.6" r="1.25"/>
<circle cx="195.9" cy="402.2" r="1.25"/>
<circle cx="189.1" cy="408.1" r="1.25"/>
<circle cx="237.0" cy="409.2" r="1.25"/>
<circle cx="246.4" cy="408.3" r="1.25"/>
<circle cx="200.1" cy="395.0" r="1.25"/>
<circle cx="202.3" cy="395.2" r="1.25"/>
<circle cx="216.2" cy="429.1" r="1.25"/>
<circle cx="244.3" cy="407.9" r="1.25"/>
<circle cx="204.0" cy="396.4" r="1.25"/>
<circle cx="241.3" cy="405.2" r="1.25"/>
<circle cx="202.2" cy="395.7" r="1.25"/>
<circle cx="227.8" cy="396.8" r="1.25"/>
<circle cx="198.9" cy="413.1" r="1.25"/>
<circle cx="201.1" cy="423.7" r="1.25"/>
<circle cx="205.9" cy="393.6" r="1.25"/>
<circle cx="241.0" cy="407.7" r="1.25"/>
<circle cx="221.7" cy="386.5" r="1.25"/>
<circle cx="227.4" cy="416.3" r="1.25"/>
<circle cx="203.0" cy="416.4" r="1.25"/>
<circle cx="238.6" cy="402.0" r="1.25"/>
<circle cx="226.8" cy="419.5" r="1.25"/>
<circle cx="195.1" cy="408.9" r="1.25"/>
<circle cx="196.4" cy="400.7" r="1.25"/>
<circle cx="191.0" cy="407.5" r="1.25"/>
<circle cx="229.1" cy="418.0" r="1.25"/>
<circle cx="201.3" cy="416.4" r="1.25"/>
<circle cx="221.7" cy="426.1" r="1.25"/>
<circle cx="213.5" cy="432.2" r="1.25"/>
<circle cx="217.4" cy="428.3" r="1.25"/>
<circle cx="221.2" cy="391.8" r="1.25"/>
<circle cx="217.7" cy="429.0" r="1.25"/>
<circle cx="221.0" cy="389.3" r="1.25"/>
<circle cx="238.0" cy="408.7" r="1.25"/>
<circle cx="215.0" cy="389.9" r="1.25"/>
<circle cx="223.0" cy="390.3" r="1.25"/>
<circle cx="214.1" cy="390.4" r="1.25"/>
<circle cx="225.9" cy="394.4" r="1.25"/>
<circle cx="236.3" cy="401.1" r="1.25"/>
<circle cx="234.3" cy="418.2" r="1.25"/>
<circle cx="190.4" cy="406.3" r="1.25"/>
<circle cx="207.9" cy="392.7" r="1.25"/>
<circle cx="194.8" cy="404.5" r="1.25"/>
<circle cx="212.7" cy="389.5" r="1.25"/>
<circle cx="217.5" cy="428.1" r="1.25"/>
<circle cx="231.5" cy="415.6" r="1.25"/>
<circle cx="238.5" cy="409.1" r="1.25"/>
<circle cx="193.7" cy="410.1" r="1.25"/>
<circle cx="244.1" cy="406.1" r="1.25"/>
<circle cx="191.6" cy="404.8" r="1.25"/>
<circle cx="196.0" cy="410.0" r="1.25"/>
<circle cx="229.7" cy="394.9" r="1.25"/>
<circle cx="211.9" cy="389.8" r="1.25"/>
<circle cx="200.6" cy="396.7" r="1.25"/>
<circle cx="188.5" cy="406.2" r="1.25"/>
<circle cx="206.8" cy="393.8" r="1.25"/>
<circle cx="234.4" cy="401.6" r="1.25"/>
<circle cx="205.1" cy="427.2" r="1.25"/>
<circle cx="215.7" cy="389.1" r="1.25"/>
<circle cx="223.3" cy="422.1" r="1.25"/>
<circle cx="233.9" cy="394.7" r="1.25"/>
<circle cx="238.9" cy="404.0" r="1.25"/>
<circle cx="192.8" cy="409.9" r="1.25"/>
<circle cx="232.8" cy="413.4" r="1.25"/>
<circle cx="206.4" cy="394.4" r="1.25"/>
<circle cx="195.8" cy="401.1" r="1.25"/>
<circle cx="238.3" cy="410.6" r="1.25"/>
<circle cx="242.6" cy="404.7" r="1.25"/>
<circle cx="199.2" cy="416.4" r="1.25"/>
<circle cx="236.4" cy="412.6" r="1.25"/>
<circle cx="215.0" cy="430.3" r="1.25"/>
<circle cx="232.1" cy="413.1" r="1.25"/>
<circle cx="219.2" cy="389.1" r="1.25"/>
<circle cx="216.4" cy="390.2" r="1.25"/>
<circle cx="247.6" cy="406.2" r="1.25"/>
<circle cx="198.3" cy="412.0" r="1.25"/>
<circle cx="234.6" cy="415.9" r="1.25"/>
<circle cx="238.0" cy="408.8" r="1.25"/>
<circle cx="207.4" cy="391.6" r="1.25"/>
<circle cx="235.6" cy="412.1" r="1.25"/>
<circle cx="224.2" cy="420.0" r="1.25"/>
<circle cx="232.6" cy="414.1" r="1.25"/>
<circle cx="228.0" cy="416.9" r="1.25"/>
<circle cx="236.2" cy="399.4" r="1.25"/>
<circle cx="239.2" cy="414.1" r="1.25"/>
<circle cx="196.0" cy="410.7" r="1.25"/>
<circle cx="209.7" cy="428.6" r="1.25"/>
<circle cx="212.0" cy="430.6" r="1.25"/>
<circle cx="225.7" cy="393.7" r="1.25"/>
<circle cx="218.2" cy="389.5" r="1.25"/>
<circle cx="206.2" cy="395.0" r="1.25"/>
<circle cx="200.9" cy="413.3" r="1.25"/>
<circle cx="209.9" cy="428.5" r="1.25"/>
<circle cx="215.5" cy="389.1" r="1.25"/>
<circle cx="237.5" cy="403.0" r="1.25"/>
<circle cx="197.7" cy="403.1" r="1.25"/>
<circle cx="231.0" cy="416.3" r="1.25"/>
<circle cx="192.9" cy="407.5" r="1.25"/>
<circle cx="212.5" cy="390.6" r="1.25"/>
<circle cx="243.4" cy="407.9" r="1.25"/>
<circle cx="210.4" cy="430.8" r="1.25"/>
<circle cx="213.2" cy="388.6" r="1.25"/>
<circle cx="211.6" cy="388.7" r="1.25"/>
<circle cx="196.7" cy="411.6" r="1.25"/>
<circle cx="223.0" cy="424.6" r="1.25"/>
<circle cx="198.1" cy="402.9" r="1.25"/>
<circle cx="196.1" cy="408.7" r="1.25"/>
<circle cx="198.3" cy="401.9" r="1.25"/>
<circle cx="213.3" cy="430.7" r="1.25"/>
<circle cx="191.0" cy="405.1" r="1.25"/>
<circle cx="197.1" cy="401.3" r="1.25"/>
<circle cx="234.8" cy="415.2" r="1.25"/>
<circle cx="194.6" cy="411.0" r="1.25"/>
<circle cx="191.6" cy="403.6" r="1.25"/>
<circle cx="231.5" cy="416.1" r="1.25"/>
<circle cx="200.7" cy="413.8" r="1.25"/>
<circle cx="204.2" cy="396.0" r="1.25"/>
<circle cx="237.1" cy="411.8" r="1.25"/>
<circle cx="242.5" cy="404.7" r="1.25"/>
<circle cx="191.1" cy="410.2" r="1.25"/>
<circle cx="199.5" cy="400.4" r="1.25"/>
<circle cx="196.6" cy="398.7" r="1.25"/>
<circle cx="229.3" cy="417.3" r="1.25"/>
<circle cx="224.9" cy="420.9" r="1.25"/>
<circle cx="210.9" cy="391.7" r="1.25"/>
<circle cx="225.3" cy="425.3" r="1.25"/>
<circle cx="244.3" cy="406.1" r="1.25"/>
<circle cx="203.1" cy="420.3" r="1.25"/>
<circle cx="204.5" cy="423.8" r="1.25"/>
<circle cx="198.6" cy="402.0" r="1.25"/>
<circle cx="205.1" cy="393.9" r="1.25"/>
<circle cx="228.0" cy="415.3" r="1.25"/>
<circle cx="215.1" cy="388.7" r="1.25"/>
<circle cx="203.9" cy="423.2" r="1.25"/>
<circle cx="192.5" cy="403.8" r="1.25"/>
<circle cx="239.0" cy="409.4" r="1.25"/>
<circle cx="205.1" cy="392.9" r="1.25"/>
<circle cx="234.2" cy="398.3" r="1.25"/>
<circle cx="236.8" cy="396.3" r="1.25"/>
<circle cx="240.0" cy="409.5" r="1.25"/>
<circle cx="206.0" cy="424.5" r="1.25"/>
<circle cx="221.1" cy="391.6" r="1.25"/>
<circle cx="197.5" cy="396.8" r="1.25"/>
<circle cx="209.8" cy="426.2" r="1.25"/>
<circle cx="199.2" cy="396.9" r="1.25"/>
<circle cx="213.2" cy="391.2" r="1.25"/>
<circle cx="200.7" cy="414.8" r="1.25"/>
<circle cx="205.7" cy="424.5" r="1.25"/>
<circle cx="220.5" cy="426.5" r="1.25"/>
<circle cx="243.9" cy="405.1" r="1.25"/>
<circle cx="223.2" cy="420.7" r="1.25"/>
<circle cx="197.1" cy="402.0" r="1.25"/>
<circle cx="207.4" cy="424.9" r="1.25"/>
<circle cx="197.4" cy="399.9" r="1.25"/>
<circle cx="223.2" cy="425.0" r="1.25"/>
<circle cx="207.4" cy="391.5" r="1.25"/>
<circle cx="211.4" cy="390.4" r="1.25"/>
<circle cx="209.8" cy="429.3" r="1.25"/>
<circle cx="194.5" cy="407.9" r="1.25"/>
<circle cx="211.9" cy="388.4" r="1.25"/>
<circle cx="227.1" cy="417.0" r="1.25"/>
<circle cx="213.8" cy="429.6" r="1.25"/>
<circle cx="201.0" cy="417.1" r="1.25"/>
<circle cx="206.7" cy="426.7" r="1.25"/>
<circle cx="207.4" cy="393.1" r="1.25"/>
<circle cx="201.2" cy="393.9" r="1.25"/>
<circle cx="199.4" cy="418.1" r="1.25"/>
<circle cx="201.2" cy="415.3" r="1.25"/>
<circle cx="212.8" cy="391.1" r="1.25"/>
<circle cx="230.7" cy="397.6" r="1.25"/>
<circle cx="200.5" cy="397.4" r="1.25"/>
<circle cx="194.9" cy="402.4" r="1.25"/>
<circle cx="218.3" cy="429.9" r="1.25"/>
<circle cx="222.9" cy="391.8" r="1.25"/>
<circle cx="216.0" cy="387.7" r="1.25"/>
<circle cx="196.6" cy="411.2" r="1.25"/>
<circle cx="196.3" cy="399.8" r="1.25"/>
<circle cx="235.7" cy="399.9" r="1.25"/>
<circle cx="197.6" cy="400.5" r="1.25"/>
<circle cx="217.6" cy="388.6" r="1.25"/>
<circle cx="190.3" cy="406.6" r="1.25"/>
<circle cx="220.2" cy="391.4" r="1.25"/>
<circle cx="233.5" cy="414.0" r="1.25"/>
<circle cx="217.8" cy="427.1" r="1.25"/>
<circle cx="229.4" cy="393.8" r="1.25"/>
<circle cx="195.9" cy="411.3" r="1.25"/>
<circle cx="209.3" cy="392.6" r="1.25"/>
<circle cx="220.4" cy="429.5" r="1.25"/>
<circle cx="213.2" cy="433.2" r="1.25"/>
<circle cx="215.6" cy="385.5" r="1.25"/>
<circle cx="241.4" cy="404.0" r="1.25"/>
<circle cx="223.6" cy="393.6" r="1.25"/>
<circle cx="226.3" cy="417.8" r="1.25"/>
<circle cx="220.0" cy="427.7" r="1.25"/>
<circle cx="227.2" cy="394.2" r="1.25"/>
<circle cx="199.3" cy="395.2" r="1.25"/>
<circle cx="227.9" cy="392.1" r="1.25"/>
<circle cx="226.4" cy="421.0" r="1.25"/>
<circle cx="224.0" cy="423.2" r="1.25"/>
<circle cx="222.4" cy="428.1" r="1.25"/>
<circle cx="210.2" cy="428.2" r="1.25"/>
<circle cx="211.1" cy="390.5" r="1.25"/>
<circle cx="202.6" cy="396.8" r="1.25"/>
<circle cx="207.2" cy="425.4" r="1.25"/>
<circle cx="223.2" cy="420.4" r="1.25"/>
<circle cx="198.2" cy="398.5" r="1.25"/>
<circle cx="212.8" cy="429.7" r="1.25"/>
<circle cx="204.5" cy="396.5" r="1.25"/>
<circle cx="222.7" cy="424.6" r="1.25"/>
<circle cx="226.6" cy="396.5" r="1.25"/>
<circle cx="237.6" cy="410.4" r="1.25"/>
<circle cx="217.5" cy="432.1" r="1.25"/>
<circle cx="191.9" cy="404.6" r="1.25"/>
<circle cx="232.1" cy="414.2" r="1.25"/>
<circle cx="200.3" cy="398.9" r="1.25"/>
<circle cx="222.2" cy="392.0" r="1.25"/>
<circle cx="199.0" cy="399.4" r="1.25"/>
<circle cx="212.6" cy="391.4" r="1.25"/>
<circle cx="192.3" cy="404.3" r="1.25"/>
<circle cx="236.0" cy="399.6" r="1.25"/>
<circle cx="194.4" cy="402.7" r="1.25"/>
<circle cx="203.1" cy="421.4" r="1.25"/>
<circle cx="237.3" cy="411.8" r="1.25"/>
<circle cx="194.9" cy="403.8" r="1.25"/>
<circle cx="239.2" cy="402.8" r="1.25"/>
<circle cx="214.1" cy="432.0" r="1.25"/>
<circle cx="222.0" cy="427.1" r="1.25"/>
<circle cx="195.0" cy="408.1" r="1.25"/>
<circle cx="216.8" cy="431.9" r="1.25"/>
<circle cx="241.8" cy="405.2" r="1.25"/>
<circle cx="227.3" cy="395.4" r="1.25"/>
<circle cx="201.7" cy="397.3" r="1.25"/>
<circle cx="224.6" cy="419.1" r="1.25"/>
<circle cx="194.8" cy="409.5" r="1.25"/>
<circle cx="236.6" cy="402.9" r="1.25"/>
<circle cx="198.1" cy="413.8" r="1.25"/>
<circle cx="230.5" cy="396.9" r="1.25"/>
<circle cx="196.5" cy="400.8" r="1.25"/>
<circle cx="246.3" cy="406.5" r="1.25"/>
<circle cx="199.3" cy="399.7" r="1.25"/>
<circle cx="234.5" cy="414.4" r="1.25"/>
<circle cx="220.7" cy="424.8" r="1.25"/>
<circle cx="209.0" cy="389.8" r="1.25"/>
<circle cx="195.8" cy="410.8" r="1.25"/>
<circle cx="226.8" cy="393.8" r="1.25"/>
<circle cx="190.5" cy="407.1" r="1.25"/>
<circle cx="243.5" cy="405.3" r="1.25"/>
<circle cx="212.1" cy="389.1" r="1.25"/>
<circle cx="196.2" cy="411.2" r="1.25"/>
<circle cx="197.2" cy="412.8" r="1.25"/>
<circle cx="211.1" cy="431.1" r="1.25"/>
<circle cx="213.6" cy="389.4" r="1.25"/>
<circle cx="222.6" cy="425.2" r="1.25"/>
<circle cx="244.7" cy="406.6" r="1.25"/>
<circle cx="215.0" cy="430.5" r="1.25"/>
<circle cx="205.7" cy="393.5" r="1.25"/>
<circle cx="214.6" cy="390.8" r="1.25"/>
<circle cx="231.1" cy="415.3" r="1.25"/>
<circle cx="211.3" cy="389.4" r="1.25"/>
<circle cx="209.7" cy="429.7" r="1.25"/>
<circle cx="224.1" cy="422.8" r="1.25"/>
<circle cx="229.4" cy="416.2" r="1.25"/>
<circle cx="237.7" cy="412.9" r="1.25"/>
<circle cx="239.4" cy="404.6" r="1.25"/>
<circle cx="192.4" cy="408.5" r="1.25"/>
<circle cx="222.4" cy="425.3" r="1.25"/>
<circle cx="235.7" cy="411.2" r="1.25"/>
<circle cx="227.3" cy="420.7" r="1.25"/>
<circle cx="231.8" cy="414.2" r="1.25"/>
<circle cx="215.9" cy="429.2" r="1.25"/>
<circle cx="216.7" cy="431.0" r="1.25"/>
<circle cx="215.0" cy="429.8" r="1.25"/>
<circle cx="205.9" cy="423.2" r="1.25"/>
<circle cx="194.3" cy="405.1" r="1.25"/>
<circle cx="222.2" cy="424.4" r="1.25"/>
<circle cx="198.1" cy="415.7" r="1.25"/>
<circle cx="198.3" cy="411.8" r="1.25"/>
<circle cx="224.9" cy="421.5" r="1.25"/>
<circle cx="237.8" cy="409.2" r="1.25"/>
<circle cx="210.3" cy="392.2" r="1.25"/>
<circle cx="219.8" cy="390.4" r="1.25"/>
<circle cx="191.4" cy="404.5" r="1.25"/>
<circle cx="234.4" cy="399.7" r="1.25"/>
<circle cx="222.8" cy="423.0" r="1.25"/>
<circle cx="204.6" cy="420.8" r="1.25"/>
<circle cx="210.2" cy="389.7" r="1.25"/>
<circle cx="196.3" cy="411.0" r="1.25"/>
<circle cx="225.9" cy="418.4" r="1.25"/>
<circle cx="233.7" cy="398.9" r="1.25"/>
<circle cx="239.5" cy="404.7" r="1.25"/>
<circle cx="216.9" cy="429.0" r="1.25"/>
<circle cx="234.5" cy="402.0" r="1.25"/>
<circle cx="216.1" cy="428.8" r="1.25"/>
<circle cx="199.9" cy="418.5" r="1.25"/>
<circle cx="220.6" cy="388.5" r="1.25"/>
<circle cx="243.0" cy="404.5" r="1.25"/>
<circle cx="199.7" cy="412.6" r="1.25"/>
<circle cx="240.7" cy="402.3" r="1.25"/>
<circle cx="225.0" cy="420.6" r="1.25"/>
<circle cx="236.4" cy="410.8" r="1.25"/>
<circle cx="202.7" cy="396.4" r="1.25"/>
<circle cx="235.7" cy="401.1" r="1.25"/>
<circle cx="231.1" cy="397.9" r="1.25"/>
<circle cx="229.7" cy="396.0" r="1.25"/>
<circle cx="220.2" cy="426.1" r="1.25"/>
<circle cx="200.2" cy="400.0" r="1.25"/>
<circle cx="227.5" cy="423.7" r="1.25"/>
<circle cx="223.5" cy="421.5" r="1.25"/>
<circle cx="240.8" cy="409.7" r="1.25"/>
<circle cx="196.3" cy="401.6" r="1.25"/>
<circle cx="220.1" cy="391.4" r="1.25"/>
<circle cx="201.7" cy="395.2" r="1.25"/>
<circle cx="231.7" cy="413.9" r="1.25"/>
<circle cx="236.3" cy="400.0" r="1.25"/>
<circle cx="205.1" cy="425.2" r="1.25"/>
<circle cx="210.0" cy="391.6" r="1.25"/>
<circle cx="206.8" cy="394.7" r="1.25"/>
<circle cx="236.1" cy="411.5" r="1.25"/>
<circle cx="205.8" cy="395.0" r="1.25"/>
<circle cx="215.1" cy="428.2" r="1.25"/>
<circle cx="257.2" cy="405.7" r="1.25"/>
<circle cx="232.2" cy="407.4" r="1.25"/>
<circle cx="195.9" cy="405.9" r="1.25"/>
<circle cx="254.3" cy="406.0" r="1.25"/>
<circle cx="262.0" cy="404.7" r="1.25"/>
<circle cx="229.1" cy="407.3" r="1.25"/>
<circle cx="258.4" cy="405.1" r="1.25"/>
<circle cx="228.4" cy="406.4" r="1.25"/>
<circle cx="185.6" cy="407.0" r="1.25"/>
<circle cx="200.1" cy="406.3" r="1.25"/>
<circle cx="240.6" cy="406.1" r="1.25"/>
<circle cx="188.1" cy="407.1" r="1.25"/>
<circle cx="241.6" cy="406.8" r="1.25"/>
<circle cx="243.0" cy="407.2" r="1.25"/>
<circle cx="184.5" cy="407.4" r="1.25"/>
<circle cx="265.3" cy="405.3" r="1.25"/>
<circle cx="248.3" cy="405.8" r="1.25"/>
<circle cx="274.5" cy="406.8" r="1.25"/>
<circle cx="191.9" cy="406.9" r="1.25"/>
<circle cx="226.9" cy="406.8" r="1.25"/>
<circle cx="182.5" cy="406.1" r="1.25"/>
<circle cx="222.0" cy="406.2" r="1.25"/>
<circle cx="246.4" cy="405.9" r="1.25"/>
<circle cx="183.8" cy="406.4" r="1.25"/>
<circle cx="218.3" cy="406.3" r="1.25"/>
<circle cx="178.7" cy="405.9" r="1.25"/>
<circle cx="246.8" cy="406.0" r="1.25"/>
<circle cx="276.6" cy="405.5" r="1.25"/>
<circle cx="276.1" cy="406.1" r="1.25"/>
<circle cx="220.4" cy="406.7" r="1.25"/>
<circle cx="253.7" cy="406.9" r="1.25"/>
<circle cx="176.2" cy="404.3" r="1.25"/>
<circle cx="259.6" cy="405.5" r="1.25"/>
<circle cx="177.4" cy="406.8" r="1.25"/>
<circle cx="212.9" cy="406.2" r="1.25"/>
<circle cx="228.7" cy="405.6" r="1.25"/>
<circle cx="260.5" cy="406.0" r="1.25"/>
<circle cx="229.3" cy="405.7" r="1.25"/>
<circle cx="207.1" cy="406.1" r="1.25"/>
<circle cx="267.3" cy="406.7" r="1.25"/>
<circle cx="266.9" cy="406.0" r="1.25"/>
<circle cx="200.9" cy="405.4" r="1.25"/>
<circle cx="242.0" cy="406.9" r="1.25"/>
<circle cx="270.0" cy="406.3" r="1.25"/>
<circle cx="212.1" cy="407.0" r="1.25"/>
<circle cx="162.5" cy="406.6" r="1.25"/>
<circle cx="164.0" cy="406.6" r="1.25"/>
<circle cx="165.5" cy="406.6" r="1.25"/>
<circle cx="167.0" cy="406.6" r="1.25"/>
<circle cx="168.5" cy="406.6" r="1.25"/>
<circle cx="183.5" cy="405.2" r="1.25"/>
<circle cx="189.0" cy="404.5" r="1.25"/>
<circle cx="185.0" cy="403.5" r="1.25"/>
<circle cx="190.0" cy="402.8" r="1.25"/>
<circle cx="192.5" cy="401.0" r="1.25"/>
<circle cx="184.2" cy="413.8" r="1.25"/>
<circle cx="183.0" cy="417.0" r="1.25"/>
<circle cx="184.6" cy="419.0" r="1.25"/>
<circle cx="186.2" cy="416.0" r="1.25"/>
<circle cx="181.5" cy="418.5" r="1.25"/>
<circle cx="191.0" cy="415.0" r="1.25"/>
<circle cx="193.0" cy="418.0" r="1.25"/>
<circle cx="189.0" cy="420.6" r="1.25"/>
<circle cx="252.1" cy="421.5" r="1.25"/>
<circle cx="249.0" cy="404.0" r="1.25"/>
<circle cx="246.0" cy="400.0" r="1.25"/>
<circle cx="243.0" cy="398.0" r="1.25"/>
<circle cx="241.0" cy="397.0" r="1.25"/>
<circle cx="238.0" cy="394.0" r="1.25"/>
<circle cx="236.0" cy="392.0" r="1.25"/>
<circle cx="223.7" cy="381.8" r="1.25"/>
<circle cx="228.5" cy="378.8" r="1.25"/>
<circle cx="225.0" cy="383.7" r="1.25"/>
<circle cx="215.8" cy="380.4" r="1.25"/>
<circle cx="222.7" cy="378.4" r="1.25"/>
<circle cx="206.5" cy="388.0" r="1.25"/>
<circle cx="208.8" cy="384.4" r="1.25"/>
<circle cx="203.2" cy="389.0" r="1.25"/>
<circle cx="209.5" cy="430.7" r="1.25"/>
<circle cx="204.8" cy="431.0" r="1.25"/>
<circle cx="206.5" cy="434.8" r="1.25"/>
<circle cx="203.3" cy="437.0" r="1.25"/>
<circle cx="205.5" cy="440.0" r="1.25"/>
<circle cx="208.0" cy="442.0" r="1.25"/>
<circle cx="212.6" cy="440.5" r="1.25"/>
<circle cx="217.0" cy="436.0" r="1.25"/>
<circle cx="219.2" cy="438.0" r="1.25"/>
<circle cx="226.0" cy="436.0" r="1.25"/>
<circle cx="229.5" cy="434.0" r="1.25"/>
<circle cx="233.5" cy="427.0" r="1.25"/>
<circle cx="215.5" cy="445.0" r="1.25"/>
<circle cx="213.0" cy="449.6" r="1.25"/>
<circle cx="220.0" cy="452.0" r="1.25"/>
<circle cx="223.0" cy="448.5" r="1.25"/>
<circle cx="228.5" cy="445.3" r="1.25"/>
<circle cx="230.4" cy="441.2" r="1.25"/>
<circle cx="237.0" cy="444.7" r="1.25"/>
</g>
<path d="M152.2,403.9 L175.8,403.9 L175.8,405.7 L152.2,405.7 Z" fill="#e6a4ad"/>
<line x1="163.0" y1="405.6" x2="280.2" y2="406.2" stroke="#a3394a" stroke-width="0.9"/>
<text x="235.8" y="448.8" font-size="7.8" text-anchor="start" fill="#a3394a" textLength="32.5" lengthAdjust="spacingAndGlyphs" stroke="#a3394a" stroke-width="0.12">R=0.02143</text>
<text x="296.3" y="351.7" font-size="10" text-anchor="start" fill="#231f20">H</text>
<line x1="310.4" y1="362.0" x2="310.4" y2="413.1" stroke="#333" stroke-width="0.9"/>
<line x1="310.4" y1="422.6" x2="310.4" y2="473.0" stroke="#333" stroke-width="0.9"/>
<text transform="translate(305.2 388.3) rotate(-90)" font-size="8.0" text-anchor="middle" fill="#231f20" textLength="9.2" lengthAdjust="spacingAndGlyphs" stroke="#231f20" stroke-width="0.12">VC</text>
<text transform="translate(305.0 466.4) rotate(-90)" font-size="7.5" text-anchor="start" fill="#231f20" textLength="25.5" lengthAdjust="spacingAndGlyphs" stroke="#231f20" stroke-width="0.12">VC;Phf6</text>
<text transform="translate(303.8 436.8) rotate(-90)" font-size="5.2" text-anchor="start" fill="#231f20" textLength="6.3" lengthAdjust="spacingAndGlyphs" stroke="#231f20" stroke-width="0.12">Δ/y</text>
<line x1="328.5" y1="362.1" x2="513.0" y2="362.1" stroke="#cfcfcf" stroke-width="0.9"/>
<line x1="328.5" y1="383.2" x2="513.0" y2="383.2" stroke="#8a97ad" stroke-width="0.7"/>
<path d="M328.5,383.5 L328.5,383.00 L329.3,383.00 L329.3,383.50 L330.1,383.50 L330.1,382.70 L330.9,382.70 L330.9,382.64 L331.7,382.64 L331.7,382.59 L332.5,382.59 L332.5,382.51 L333.3,382.51 L333.3,383.50 L334.1,383.50 L334.1,382.70 L334.9,382.70 L334.9,383.50 L335.7,383.50 L335.7,383.50 L336.5,383.50 L336.5,383.50 L337.3,383.50 L337.3,383.50 L338.1,383.50 L338.1,383.20 L338.9,383.20 L338.9,383.50 L339.7,383.50 L339.7,383.20 L340.5,383.20 L340.5,383.10 L341.3,383.10 L341.3,380.56 L342.1,380.56 L342.1,376.30 L342.9,376.30 L342.9,372.84 L343.7,372.84 L343.7,370.01 L344.5,370.01 L344.5,368.15 L345.3,368.15 L345.3,369.10 L346.1,369.10 L346.1,368.76 L346.9,368.76 L346.9,366.06 L347.7,366.06 L347.7,371.05 L348.5,371.05 L348.5,373.55 L349.3,373.55 L349.3,377.62 L350.1,377.62 L350.1,380.77 L350.9,380.77 L350.9,383.20 L351.7,383.20 L351.7,383.50 L352.5,383.50 L352.5,383.50 L353.3,383.50 L353.3,383.50 L354.1,383.50 L354.1,383.20 L354.9,383.20 L354.9,383.50 L355.7,383.50 L355.7,383.50 L356.5,383.50 L356.5,382.91 L357.3,382.91 L357.3,382.64 L358.1,382.64 L358.1,382.59 L358.9,382.59 L358.9,382.92 L359.7,382.92 L359.7,383.50 L360.5,383.50 L360.5,382.09 L361.3,382.09 L361.3,381.81 L362.1,381.81 L362.1,381.78 L362.9,381.78 L362.9,381.95 L363.7,381.95 L363.7,383.25 L364.5,383.25 L364.5,383.01 L365.3,383.01 L365.3,383.28 L366.1,383.28 L366.1,383.23 L366.9,383.23 L366.9,383.11 L367.7,383.11 L367.7,382.62 L368.5,382.62 L368.5,383.01 L369.3,383.01 L369.3,383.50 L370.1,383.50 L370.1,383.00 L370.9,383.00 L370.9,383.50 L371.7,383.50 L371.7,383.20 L372.5,383.20 L372.5,383.50 L373.3,383.50 L373.3,383.00 L374.1,383.00 L374.1,382.70 L374.9,382.70 L374.9,383.50 L375.7,383.50 L375.7,379.81 L376.5,379.81 L376.5,378.37 L377.3,378.37 L377.3,378.56 L378.1,378.56 L378.1,378.06 L378.9,378.06 L378.9,377.91 L379.7,377.91 L379.7,378.80 L380.5,378.80 L380.5,379.13 L381.3,379.13 L381.3,378.74 L382.1,378.74 L382.1,378.09 L382.9,378.09 L382.9,378.92 L383.7,378.92 L383.7,379.64 L384.5,379.64 L384.5,380.99 L385.3,380.99 L385.3,382.10 L386.1,382.10 L386.1,383.20 L386.9,383.20 L386.9,383.50 L387.7,383.50 L387.7,383.50 L388.5,383.50 L388.5,382.70 L389.3,382.70 L389.3,383.50 L390.1,383.50 L390.1,381.96 L390.9,381.96 L390.9,381.72 L391.7,381.72 L391.7,382.18 L392.5,382.18 L392.5,381.87 L393.3,381.87 L393.3,383.50 L394.1,383.50 L394.1,383.20 L394.9,383.20 L394.9,383.50 L395.7,383.50 L395.7,383.50 L396.5,383.50 L396.5,383.50 L397.3,383.50 L397.3,383.20 L398.1,383.20 L398.1,383.50 L398.9,383.50 L398.9,380.50 L399.7,380.50 L399.7,380.70 L400.5,380.70 L400.5,380.21 L401.3,380.21 L401.3,380.55 L402.1,380.55 L402.1,380.73 L402.9,380.73 L402.9,380.54 L403.7,380.54 L403.7,383.00 L404.5,383.00 L404.5,383.50 L405.3,383.50 L405.3,382.32 L406.1,382.32 L406.1,382.68 L406.9,382.68 L406.9,382.21 L407.7,382.21 L407.7,382.35 L408.5,382.35 L408.5,382.08 L409.3,382.08 L409.3,382.18 L410.1,382.18 L410.1,382.38 L410.9,382.38 L410.9,382.45 L411.7,382.45 L411.7,380.07 L412.5,380.07 L412.5,380.25 L413.3,380.25 L413.3,379.80 L414.1,379.80 L414.1,380.53 L414.9,380.53 L414.9,380.39 L415.7,380.39 L415.7,382.70 L416.5,382.70 L416.5,383.50 L417.3,383.50 L417.3,383.20 L418.1,383.20 L418.1,383.50 L418.9,383.50 L418.9,383.00 L419.7,383.00 L419.7,380.65 L420.5,380.65 L420.5,380.94 L421.3,380.94 L421.3,380.58 L422.1,380.58 L422.1,380.80 L422.9,380.80 L422.9,380.60 L423.7,380.60 L423.7,380.34 L424.5,380.34 L424.5,380.92 L425.3,380.92 L425.3,380.91 L426.1,380.91 L426.1,383.20 L426.9,383.20 L426.9,383.50 L427.7,383.50 L427.7,382.70 L428.5,382.70 L428.5,383.50 L429.3,383.50 L429.3,382.70 L430.1,382.70 L430.1,382.70 L430.9,382.70 L430.9,382.70 L431.7,382.70 L431.7,382.00 L432.5,382.00 L432.5,379.83 L433.3,379.83 L433.3,379.22 L434.1,379.22 L434.1,378.66 L434.9,378.66 L434.9,378.57 L435.7,378.57 L435.7,378.94 L436.5,378.94 L436.5,378.73 L437.3,378.73 L437.3,378.58 L438.1,378.58 L438.1,378.40 L438.9,378.40 L438.9,379.27 L439.7,379.27 L439.7,380.21 L440.5,380.21 L440.5,382.49 L441.3,382.49 L441.3,383.00 L442.1,383.00 L442.1,383.50 L442.9,383.50 L442.9,378.17 L443.7,378.17 L443.7,371.07 L444.5,371.07 L444.5,371.96 L445.3,371.96 L445.3,371.72 L446.1,371.72 L446.1,369.68 L446.9,369.68 L446.9,366.45 L447.7,366.45 L447.7,367.45 L448.5,367.45 L448.5,367.90 L449.3,367.90 L449.3,368.70 L450.1,368.70 L450.1,366.42 L450.9,366.42 L450.9,370.69 L451.7,370.69 L451.7,370.20 L452.5,370.20 L452.5,369.85 L453.3,369.85 L453.3,373.25 L454.1,373.25 L454.1,372.52 L454.9,372.52 L454.9,373.52 L455.7,373.52 L455.7,375.47 L456.5,375.47 L456.5,376.48 L457.3,376.48 L457.3,377.04 L458.1,377.04 L458.1,377.63 L458.9,377.63 L458.9,377.61 L459.7,377.61 L459.7,376.99 L460.5,376.99 L460.5,383.20 L461.3,383.20 L461.3,382.70 L462.1,382.70 L462.1,380.21 L462.9,380.21 L462.9,380.09 L463.7,380.09 L463.7,380.29 L464.5,380.29 L464.5,380.51 L465.3,380.51 L465.3,380.24 L466.1,380.24 L466.1,380.61 L466.9,380.61 L466.9,380.73 L467.7,380.73 L467.7,380.40 L468.5,380.40 L468.5,380.40 L469.3,380.40 L469.3,380.56 L470.1,380.56 L470.1,380.58 L470.9,380.58 L470.9,379.94 L471.7,379.94 L471.7,380.80 L472.5,380.80 L472.5,381.37 L473.3,381.37 L473.3,381.57 L474.1,381.57 L474.1,381.46 L474.9,381.46 L474.9,381.33 L475.7,381.33 L475.7,381.54 L476.5,381.54 L476.5,381.62 L477.3,381.62 L477.3,381.77 L478.1,381.77 L478.1,381.56 L478.9,381.56 L478.9,381.44 L479.7,381.44 L479.7,383.00 L480.5,383.00 L480.5,383.50 L481.3,383.50 L481.3,383.50 L482.1,383.50 L482.1,383.50 L482.9,383.50 L482.9,383.50 L483.7,383.50 L483.7,383.00 L484.5,383.00 L484.5,379.89 L485.3,379.89 L485.3,379.81 L486.1,379.81 L486.1,380.34 L486.9,380.34 L486.9,380.15 L487.7,380.15 L487.7,379.89 L488.5,379.89 L488.5,379.88 L489.3,379.88 L489.3,383.20 L490.1,383.20 L490.1,383.20 L490.9,383.20 L490.9,383.20 L491.7,383.20 L491.7,382.70 L492.5,382.70 L492.5,382.70 L493.3,382.70 L493.3,382.67 L494.1,382.67 L494.1,382.67 L494.9,382.67 L494.9,382.23 L495.7,382.23 L495.7,382.62 L496.5,382.62 L496.5,382.10 L497.3,382.10 L497.3,382.55 L498.1,382.55 L498.1,382.44 L498.9,382.44 L498.9,382.73 L499.7,382.73 L499.7,382.21 L500.5,382.21 L500.5,382.74 L501.3,382.74 L501.3,382.17 L502.1,382.17 L502.1,382.74 L502.9,382.74 L502.9,382.06 L503.7,382.06 L503.7,382.19 L504.5,382.19 L504.5,382.32 L505.3,382.32 L505.3,382.42 L506.1,382.42 L506.1,382.19 L506.9,382.19 L506.9,382.68 L507.7,382.68 L507.7,383.20 L508.5,383.20 L508.5,383.50 L509.3,383.50 L509.3,383.50 L510.1,383.50 L510.1,383.00 L510.9,383.00 L510.9,383.50 L511.7,383.50 L511.7,383.20 L512.5,383.20 L512.5,383.50 L513.3,383.50 L513.0,383.5 Z" fill="#4a6086"/>
<text x="322.3" y="364.70000000000005" font-size="7.8" text-anchor="end" fill="#231f20" textLength="8.0" lengthAdjust="spacingAndGlyphs" stroke="#231f20" stroke-width="0.12">40</text>
<text x="322.3" y="384.7" font-size="7.8" text-anchor="end" fill="#231f20" textLength="4.0" lengthAdjust="spacingAndGlyphs" stroke="#231f20" stroke-width="0.12">0</text>
<line x1="328.5" y1="392.3" x2="513.0" y2="392.3" stroke="#cfcfcf" stroke-width="0.9"/>
<line x1="328.5" y1="413.0" x2="513.0" y2="413.0" stroke="#8a97ad" stroke-width="0.7"/>
<path d="M328.5,413.3 L328.5,413.30 L329.3,413.30 L329.3,412.80 L330.1,412.80 L330.1,413.30 L330.9,413.30 L330.9,413.30 L331.7,413.30 L331.7,412.80 L332.5,412.80 L332.5,413.30 L333.3,413.30 L333.3,412.50 L334.1,412.50 L334.1,413.00 L334.9,413.00 L334.9,412.50 L335.7,412.50 L335.7,413.30 L336.5,413.30 L336.5,413.30 L337.3,413.30 L337.3,413.30 L338.1,413.30 L338.1,412.80 L338.9,412.80 L338.9,412.80 L339.7,412.80 L339.7,413.30 L340.5,413.30 L340.5,412.50 L341.3,412.50 L341.3,412.27 L342.1,412.27 L342.1,411.07 L342.9,411.07 L342.9,408.24 L343.7,408.24 L343.7,406.37 L344.5,406.37 L344.5,404.09 L345.3,404.09 L345.3,403.17 L346.1,403.17 L346.1,399.91 L346.9,399.91 L346.9,396.02 L347.7,396.02 L347.7,398.35 L348.5,398.35 L348.5,400.97 L349.3,400.97 L349.3,405.32 L350.1,405.32 L350.1,408.38 L350.9,408.38 L350.9,411.74 L351.7,411.74 L351.7,412.86 L352.5,412.86 L352.5,412.43 L353.3,412.43 L353.3,412.28 L354.1,412.28 L354.1,412.48 L354.9,412.48 L354.9,412.50 L355.7,412.50 L355.7,412.64 L356.5,412.64 L356.5,412.41 L357.3,412.41 L357.3,412.23 L358.1,412.23 L358.1,412.41 L358.9,412.41 L358.9,412.22 L359.7,412.22 L359.7,412.24 L360.5,412.24 L360.5,412.65 L361.3,412.65 L361.3,412.50 L362.1,412.50 L362.1,412.53 L362.9,412.53 L362.9,412.80 L363.7,412.80 L363.7,412.50 L364.5,412.50 L364.5,413.30 L365.3,413.30 L365.3,413.00 L366.1,413.00 L366.1,413.00 L366.9,413.00 L366.9,413.30 L367.7,413.30 L367.7,412.50 L368.5,412.50 L368.5,413.30 L369.3,413.30 L369.3,412.50 L370.1,412.50 L370.1,413.30 L370.9,413.30 L370.9,412.50 L371.7,412.50 L371.7,413.00 L372.5,413.00 L372.5,413.30 L373.3,413.30 L373.3,412.80 L374.1,412.80 L374.1,413.30 L374.9,413.30 L374.9,412.80 L375.7,412.80 L375.7,413.08 L376.5,413.08 L376.5,410.81 L377.3,410.81 L377.3,410.41 L378.1,410.41 L378.1,409.92 L378.9,409.92 L378.9,409.20 L379.7,409.20 L379.7,410.21 L380.5,410.21 L380.5,410.24 L381.3,410.24 L381.3,410.72 L382.1,410.72 L382.1,411.52 L382.9,411.52 L382.9,411.97 L383.7,411.97 L383.7,412.12 L384.5,412.12 L384.5,412.42 L385.3,412.42 L385.3,412.30 L386.1,412.30 L386.1,412.28 L386.9,412.28 L386.9,412.26 L387.7,412.26 L387.7,413.30 L388.5,413.30 L388.5,413.30 L389.3,413.30 L389.3,413.30 L390.1,413.30 L390.1,413.30 L390.9,413.30 L390.9,412.50 L391.7,412.50 L391.7,413.30 L392.5,413.30 L392.5,412.50 L393.3,412.50 L393.3,412.21 L394.1,412.21 L394.1,412.32 L394.9,412.32 L394.9,412.52 L395.7,412.52 L395.7,412.15 L396.5,412.15 L396.5,412.39 L397.3,412.39 L397.3,412.33 L398.1,412.33 L398.1,412.80 L398.9,412.80 L398.9,413.00 L399.7,413.00 L399.7,412.50 L400.5,412.50 L400.5,413.30 L401.3,413.30 L401.3,412.50 L402.1,412.50 L402.1,413.30 L402.9,413.30 L402.9,413.30 L403.7,413.30 L403.7,413.00 L404.5,413.00 L404.5,413.30 L405.3,413.30 L405.3,412.52 L406.1,412.52 L406.1,412.85 L406.9,412.85 L406.9,412.57 L407.7,412.57 L407.7,412.48 L408.5,412.48 L408.5,412.33 L409.3,412.33 L409.3,413.03 L410.1,413.03 L410.1,412.67 L410.9,412.67 L410.9,412.68 L411.7,412.68 L411.7,412.57 L412.5,412.57 L412.5,412.96 L413.3,412.96 L413.3,412.43 L414.1,412.43 L414.1,412.35 L414.9,412.35 L414.9,412.89 L415.7,412.89 L415.7,412.79 L416.5,412.79 L416.5,412.88 L417.3,412.88 L417.3,412.80 L418.1,412.80 L418.1,413.04 L418.9,413.04 L418.9,412.81 L419.7,412.81 L419.7,412.72 L420.5,412.72 L420.5,412.94 L421.3,412.94 L421.3,412.95 L422.1,412.95 L422.1,412.35 L422.9,412.35 L422.9,412.39 L423.7,412.39 L423.7,413.03 L424.5,413.03 L424.5,412.65 L425.3,412.65 L425.3,412.80 L426.1,412.80 L426.1,413.00 L426.9,413.00 L426.9,412.80 L427.7,412.80 L427.7,412.50 L428.5,412.50 L428.5,413.30 L429.3,413.30 L429.3,412.50 L430.1,412.50 L430.1,413.30 L430.9,413.30 L430.9,413.30 L431.7,413.30 L431.7,412.58 L432.5,412.58 L432.5,409.38 L433.3,409.38 L433.3,409.58 L434.1,409.58 L434.1,408.83 L434.9,408.83 L434.9,410.25 L435.7,410.25 L435.7,410.76 L436.5,410.76 L436.5,410.58 L437.3,410.58 L437.3,410.67 L438.1,410.67 L438.1,411.28 L438.9,411.28 L438.9,411.28 L439.7,411.28 L439.7,411.04 L440.5,411.04 L440.5,413.30 L441.3,413.30 L441.3,413.30 L442.1,413.30 L442.1,413.00 L442.9,413.00 L442.9,413.30 L443.7,413.30 L443.7,403.35 L444.5,403.35 L444.5,404.60 L445.3,404.60 L445.3,402.45 L446.1,402.45 L446.1,404.63 L446.9,404.63 L446.9,402.60 L447.7,402.60 L447.7,407.29 L448.5,407.29 L448.5,406.55 L449.3,406.55 L449.3,405.59 L450.1,405.59 L450.1,406.59 L450.9,406.59 L450.9,406.77 L451.7,406.77 L451.7,408.02 L452.5,408.02 L452.5,407.22 L453.3,407.22 L453.3,408.37 L454.1,408.37 L454.1,406.57 L454.9,406.57 L454.9,407.71 L455.7,407.71 L455.7,407.16 L456.5,407.16 L456.5,409.59 L457.3,409.59 L457.3,409.73 L458.1,409.73 L458.1,409.58 L458.9,409.58 L458.9,409.33 L459.7,409.33 L459.7,409.49 L460.5,409.49 L460.5,409.48 L461.3,409.48 L461.3,410.85 L462.1,410.85 L462.1,411.11 L462.9,411.11 L462.9,411.17 L463.7,411.17 L463.7,411.13 L464.5,411.13 L464.5,411.08 L465.3,411.08 L465.3,411.16 L466.1,411.16 L466.1,411.30 L466.9,411.30 L466.9,413.30 L467.7,413.30 L467.7,407.28 L468.5,407.28 L468.5,407.92 L469.3,407.92 L469.3,408.22 L470.1,408.22 L470.1,407.41 L470.9,407.41 L470.9,410.23 L471.7,410.23 L471.7,410.34 L472.5,410.34 L472.5,410.00 L473.3,410.00 L473.3,409.93 L474.1,409.93 L474.1,410.24 L474.9,410.24 L474.9,409.33 L475.7,409.33 L475.7,409.59 L476.5,409.59 L476.5,410.28 L477.3,410.28 L477.3,409.69 L478.1,409.69 L478.1,410.55 L478.9,410.55 L478.9,410.12 L479.7,410.12 L479.7,413.30 L480.5,413.30 L480.5,413.30 L481.3,413.30 L481.3,410.98 L482.1,410.98 L482.1,411.22 L482.9,411.22 L482.9,410.98 L483.7,410.98 L483.7,411.10 L484.5,411.10 L484.5,410.66 L485.3,410.66 L485.3,412.68 L486.1,412.68 L486.1,412.73 L486.9,412.73 L486.9,412.72 L487.7,412.72 L487.7,412.76 L488.5,412.76 L488.5,412.66 L489.3,412.66 L489.3,412.66 L490.1,412.66 L490.1,413.05 L490.9,413.05 L490.9,412.44 L491.7,412.44 L491.7,412.62 L492.5,412.62 L492.5,412.93 L493.3,412.93 L493.3,412.62 L494.1,412.62 L494.1,412.48 L494.9,412.48 L494.9,412.76 L495.7,412.76 L495.7,413.03 L496.5,413.03 L496.5,412.88 L497.3,412.88 L497.3,410.25 L498.1,410.25 L498.1,409.28 L498.9,409.28 L498.9,409.47 L499.7,409.47 L499.7,409.09 L500.5,409.09 L500.5,410.93 L501.3,410.93 L501.3,411.44 L502.1,411.44 L502.1,410.84 L502.9,410.84 L502.9,410.66 L503.7,410.66 L503.7,410.94 L504.5,410.94 L504.5,412.50 L505.3,412.50 L505.3,412.80 L506.1,412.80 L506.1,413.30 L506.9,413.30 L506.9,412.50 L507.7,412.50 L507.7,412.30 L508.5,412.30 L508.5,412.21 L509.3,412.21 L509.3,412.09 L510.1,412.09 L510.1,412.01 L510.9,412.01 L510.9,413.30 L511.7,413.30 L511.7,413.30 L512.5,413.30 L512.5,413.30 L513.3,413.30 L513.0,413.3 Z" fill="#4a6086"/>
<text x="322.3" y="394.90000000000003" font-size="7.8" text-anchor="end" fill="#231f20" textLength="8.0" lengthAdjust="spacingAndGlyphs" stroke="#231f20" stroke-width="0.12">40</text>
<text x="322.3" y="414.5" font-size="7.8" text-anchor="end" fill="#231f20" textLength="4.0" lengthAdjust="spacingAndGlyphs" stroke="#231f20" stroke-width="0.12">0</text>
<line x1="328.5" y1="422.3" x2="513.0" y2="422.3" stroke="#cfcfcf" stroke-width="0.9"/>
<line x1="328.5" y1="443.2" x2="513.0" y2="443.2" stroke="#8a97ad" stroke-width="0.7"/>
<path d="M328.5,443.5 L328.5,443.50 L329.3,443.50 L329.3,443.00 L330.1,443.00 L330.1,443.50 L330.9,443.50 L330.9,443.50 L331.7,443.50 L331.7,443.50 L332.5,443.50 L332.5,442.70 L333.3,442.70 L333.3,443.20 L334.1,443.20 L334.1,443.50 L334.9,443.50 L334.9,443.50 L335.7,443.50 L335.7,442.70 L336.5,442.70 L336.5,443.50 L337.3,443.50 L337.3,443.00 L338.1,443.00 L338.1,443.00 L338.9,443.00 L338.9,442.70 L339.7,442.70 L339.7,442.70 L340.5,442.70 L340.5,443.00 L341.3,443.00 L341.3,441.40 L342.1,441.40 L342.1,437.67 L342.9,437.67 L342.9,433.39 L343.7,433.39 L343.7,430.52 L344.5,430.52 L344.5,425.73 L345.3,425.73 L345.3,428.63 L346.1,428.63 L346.1,426.12 L346.9,426.12 L346.9,428.55 L347.7,428.55 L347.7,429.52 L348.5,429.52 L348.5,434.00 L349.3,434.00 L349.3,439.04 L350.1,439.04 L350.1,441.24 L350.9,441.24 L350.9,443.50 L351.7,443.50 L351.7,443.50 L352.5,443.50 L352.5,443.20 L353.3,443.20 L353.3,442.70 L354.1,442.70 L354.1,443.20 L354.9,443.20 L354.9,443.50 L355.7,443.50 L355.7,442.70 L356.5,442.70 L356.5,443.00 L357.3,443.00 L357.3,442.38 L358.1,442.38 L358.1,442.76 L358.9,442.76 L358.9,442.82 L359.7,442.82 L359.7,442.45 L360.5,442.45 L360.5,442.36 L361.3,442.36 L361.3,442.70 L362.1,442.70 L362.1,443.50 L362.9,443.50 L362.9,443.50 L363.7,443.50 L363.7,442.70 L364.5,442.70 L364.5,443.00 L365.3,443.00 L365.3,443.00 L366.1,443.00 L366.1,442.70 L366.9,442.70 L366.9,443.50 L367.7,443.50 L367.7,443.50 L368.5,443.50 L368.5,443.50 L369.3,443.50 L369.3,443.50 L370.1,443.50 L370.1,443.50 L370.9,443.50 L370.9,443.50 L371.7,443.50 L371.7,443.50 L372.5,443.50 L372.5,443.50 L373.3,443.50 L373.3,443.50 L374.1,443.50 L374.1,443.20 L374.9,443.20 L374.9,442.70 L375.7,442.70 L375.7,442.70 L376.5,442.70 L376.5,443.50 L377.3,443.50 L377.3,443.50 L378.1,443.50 L378.1,440.00 L378.9,440.00 L378.9,440.32 L379.7,440.32 L379.7,439.96 L380.5,439.96 L380.5,439.80 L381.3,439.80 L381.3,439.25 L382.1,439.25 L382.1,440.13 L382.9,440.13 L382.9,439.91 L383.7,439.91 L383.7,440.29 L384.5,440.29 L384.5,439.91 L385.3,439.91 L385.3,439.68 L386.1,439.68 L386.1,443.50 L386.9,443.50 L386.9,443.20 L387.7,443.20 L387.7,442.70 L388.5,442.70 L388.5,441.15 L389.3,441.15 L389.3,441.56 L390.1,441.56 L390.1,441.28 L390.9,441.28 L390.9,441.76 L391.7,441.76 L391.7,443.20 L392.5,443.20 L392.5,443.50 L393.3,443.50 L393.3,443.50 L394.1,443.50 L394.1,442.70 L394.9,442.70 L394.9,442.70 L395.7,442.70 L395.7,443.50 L396.5,443.50 L396.5,443.50 L397.3,443.50 L397.3,443.50 L398.1,443.50 L398.1,443.50 L398.9,443.50 L398.9,443.00 L399.7,443.00 L399.7,441.62 L400.5,441.62 L400.5,442.01 L401.3,442.01 L401.3,442.08 L402.1,442.08 L402.1,441.78 L402.9,441.78 L402.9,441.94 L403.7,441.94 L403.7,442.34 L404.5,442.34 L404.5,442.07 L405.3,442.07 L405.3,441.98 L406.1,441.98 L406.1,442.31 L406.9,442.31 L406.9,441.82 L407.7,441.82 L407.7,442.25 L408.5,442.25 L408.5,441.71 L409.3,441.71 L409.3,441.88 L410.1,441.88 L410.1,442.19 L410.9,442.19 L410.9,441.90 L411.7,441.90 L411.7,441.63 L412.5,441.63 L412.5,441.80 L413.3,441.80 L413.3,442.45 L414.1,442.45 L414.1,441.91 L414.9,441.91 L414.9,441.59 L415.7,441.59 L415.7,441.89 L416.5,441.89 L416.5,441.59 L417.3,441.59 L417.3,442.06 L418.1,442.06 L418.1,441.90 L418.9,441.90 L418.9,441.43 L419.7,441.43 L419.7,441.64 L420.5,441.64 L420.5,441.58 L421.3,441.58 L421.3,441.44 L422.1,441.44 L422.1,441.86 L422.9,441.86 L422.9,441.77 L423.7,441.77 L423.7,441.23 L424.5,441.23 L424.5,441.48 L425.3,441.48 L425.3,441.45 L426.1,441.45 L426.1,441.16 L426.9,441.16 L426.9,441.81 L427.7,441.81 L427.7,440.94 L428.5,440.94 L428.5,441.90 L429.3,441.90 L429.3,443.20 L430.1,443.20 L430.1,443.50 L430.9,443.50 L430.9,443.50 L431.7,443.50 L431.7,440.15 L432.5,440.15 L432.5,440.29 L433.3,440.29 L433.3,439.85 L434.1,439.85 L434.1,439.58 L434.9,439.58 L434.9,440.41 L435.7,440.41 L435.7,440.17 L436.5,440.17 L436.5,439.58 L437.3,439.58 L437.3,439.74 L438.1,439.74 L438.1,439.81 L438.9,439.81 L438.9,443.50 L439.7,443.50 L439.7,443.00 L440.5,443.00 L440.5,443.50 L441.3,443.50 L441.3,442.70 L442.1,442.70 L442.1,443.20 L442.9,443.20 L442.9,443.50 L443.7,443.50 L443.7,437.43 L444.5,437.43 L444.5,438.16 L445.3,438.16 L445.3,437.77 L446.1,437.77 L446.1,434.90 L446.9,434.90 L446.9,435.32 L447.7,435.32 L447.7,435.54 L448.5,435.54 L448.5,438.34 L449.3,438.34 L449.3,438.93 L450.1,438.93 L450.1,439.64 L450.9,439.64 L450.9,438.46 L451.7,438.46 L451.7,439.13 L452.5,439.13 L452.5,437.90 L453.3,437.90 L453.3,437.87 L454.1,437.87 L454.1,437.70 L454.9,437.70 L454.9,438.07 L455.7,438.07 L455.7,439.64 L456.5,439.64 L456.5,439.83 L457.3,439.83 L457.3,439.23 L458.1,439.23 L458.1,439.57 L458.9,439.57 L458.9,440.22 L459.7,440.22 L459.7,441.17 L460.5,441.17 L460.5,441.32 L461.3,441.32 L461.3,441.18 L462.1,441.18 L462.1,441.43 L462.9,441.43 L462.9,441.09 L463.7,441.09 L463.7,441.70 L464.5,441.70 L464.5,441.71 L465.3,441.71 L465.3,441.61 L466.1,441.61 L466.1,441.70 L466.9,441.70 L466.9,441.65 L467.7,441.65 L467.7,441.57 L468.5,441.57 L468.5,441.87 L469.3,441.87 L469.3,441.91 L470.1,441.91 L470.1,442.12 L470.9,442.12 L470.9,441.80 L471.7,441.80 L471.7,441.78 L472.5,441.78 L472.5,442.18 L473.3,442.18 L473.3,441.96 L474.1,441.96 L474.1,441.92 L474.9,441.92 L474.9,441.80 L475.7,441.80 L475.7,441.72 L476.5,441.72 L476.5,442.24 L477.3,442.24 L477.3,442.01 L478.1,442.01 L478.1,441.91 L478.9,441.91 L478.9,441.51 L479.7,441.51 L479.7,442.04 L480.5,442.04 L480.5,442.12 L481.3,442.12 L481.3,442.11 L482.1,442.11 L482.1,441.94 L482.9,441.94 L482.9,441.89 L483.7,441.89 L483.7,441.88 L484.5,441.88 L484.5,441.92 L485.3,441.92 L485.3,441.94 L486.1,441.94 L486.1,441.73 L486.9,441.73 L486.9,441.94 L487.7,441.94 L487.7,442.02 L488.5,442.02 L488.5,441.77 L489.3,441.77 L489.3,442.07 L490.1,442.07 L490.1,441.90 L490.9,441.90 L490.9,442.70 L491.7,442.70 L491.7,442.53 L492.5,442.53 L492.5,442.65 L493.3,442.65 L493.3,442.84 L494.1,442.84 L494.1,442.71 L494.9,442.71 L494.9,442.51 L495.7,442.51 L495.7,442.67 L496.5,442.67 L496.5,442.46 L497.3,442.46 L497.3,442.41 L498.1,442.41 L498.1,442.42 L498.9,442.42 L498.9,442.78 L499.7,442.78 L499.7,442.38 L500.5,442.38 L500.5,442.42 L501.3,442.42 L501.3,442.43 L502.1,442.43 L502.1,442.77 L502.9,442.77 L502.9,442.40 L503.7,442.40 L503.7,442.39 L504.5,442.39 L504.5,442.60 L505.3,442.60 L505.3,442.71 L506.1,442.71 L506.1,442.51 L506.9,442.51 L506.9,442.95 L507.7,442.95 L507.7,442.93 L508.5,442.93 L508.5,442.18 L509.3,442.18 L509.3,442.60 L510.1,442.60 L510.1,442.70 L510.9,442.70 L510.9,442.43 L511.7,442.43 L511.7,442.70 L512.5,442.70 L512.5,443.50 L513.3,443.50 L513.0,443.5 Z" fill="#4a6086"/>
<text x="322.3" y="424.90000000000003" font-size="7.8" text-anchor="end" fill="#231f20" textLength="8.0" lengthAdjust="spacingAndGlyphs" stroke="#231f20" stroke-width="0.12">40</text>
<text x="322.3" y="444.7" font-size="7.8" text-anchor="end" fill="#231f20" textLength="4.0" lengthAdjust="spacingAndGlyphs" stroke="#231f20" stroke-width="0.12">0</text>
<line x1="328.5" y1="452.3" x2="513.0" y2="452.3" stroke="#cfcfcf" stroke-width="0.9"/>
<line x1="328.5" y1="473.2" x2="513.0" y2="473.2" stroke="#8a97ad" stroke-width="0.7"/>
<path d="M328.5,473.5 L328.5,472.70 L329.3,472.70 L329.3,473.00 L330.1,473.00 L330.1,473.50 L330.9,473.50 L330.9,473.50 L331.7,473.50 L331.7,473.50 L332.5,473.50 L332.5,473.20 L333.3,473.20 L333.3,473.20 L334.1,473.20 L334.1,473.50 L334.9,473.50 L334.9,473.50 L335.7,473.50 L335.7,473.50 L336.5,473.50 L336.5,473.50 L337.3,473.50 L337.3,473.00 L338.1,473.00 L338.1,473.00 L338.9,473.00 L338.9,473.50 L339.7,473.50 L339.7,473.50 L340.5,473.50 L340.5,471.43 L341.3,471.43 L341.3,469.31 L342.1,469.31 L342.1,466.83 L342.9,466.83 L342.9,463.76 L343.7,463.76 L343.7,462.96 L344.5,462.96 L344.5,463.90 L345.3,463.90 L345.3,463.69 L346.1,463.69 L346.1,461.51 L346.9,461.51 L346.9,465.70 L347.7,465.70 L347.7,466.02 L348.5,466.02 L348.5,468.88 L349.3,468.88 L349.3,470.03 L350.1,470.03 L350.1,471.33 L350.9,471.33 L350.9,470.90 L351.7,470.90 L351.7,471.84 L352.5,471.84 L352.5,472.03 L353.3,472.03 L353.3,471.65 L354.1,471.65 L354.1,471.89 L354.9,471.89 L354.9,472.22 L355.7,472.22 L355.7,471.75 L356.5,471.75 L356.5,473.50 L357.3,473.50 L357.3,473.00 L358.1,473.00 L358.1,473.20 L358.9,473.20 L358.9,472.70 L359.7,472.70 L359.7,473.50 L360.5,473.50 L360.5,472.70 L361.3,472.70 L361.3,473.20 L362.1,473.20 L362.1,473.50 L362.9,473.50 L362.9,473.50 L363.7,473.50 L363.7,473.00 L364.5,473.00 L364.5,473.50 L365.3,473.50 L365.3,472.70 L366.1,472.70 L366.1,473.50 L366.9,473.50 L366.9,472.70 L367.7,472.70 L367.7,473.50 L368.5,473.50 L368.5,473.00 L369.3,473.00 L369.3,472.70 L370.1,472.70 L370.1,473.00 L370.9,473.00 L370.9,473.50 L371.7,473.50 L371.7,473.50 L372.5,473.50 L372.5,473.50 L373.3,473.50 L373.3,473.50 L374.1,473.50 L374.1,473.00 L374.9,473.00 L374.9,473.00 L375.7,473.00 L375.7,470.72 L376.5,470.72 L376.5,470.71 L377.3,470.71 L377.3,470.81 L378.1,470.81 L378.1,471.36 L378.9,471.36 L378.9,471.08 L379.7,471.08 L379.7,470.84 L380.5,470.84 L380.5,471.29 L381.3,471.29 L381.3,471.01 L382.1,471.01 L382.1,471.20 L382.9,471.20 L382.9,470.73 L383.7,470.73 L383.7,470.86 L384.5,470.86 L384.5,470.92 L385.3,470.92 L385.3,470.68 L386.1,470.68 L386.1,473.50 L386.9,473.50 L386.9,472.70 L387.7,472.70 L387.7,472.70 L388.5,472.70 L388.5,473.00 L389.3,473.00 L389.3,473.50 L390.1,473.50 L390.1,473.50 L390.9,473.50 L390.9,473.00 L391.7,473.00 L391.7,473.20 L392.5,473.20 L392.5,472.70 L393.3,472.70 L393.3,473.50 L394.1,473.50 L394.1,471.95 L394.9,471.95 L394.9,472.05 L395.7,472.05 L395.7,472.40 L396.5,472.40 L396.5,471.61 L397.3,471.61 L397.3,472.30 L398.1,472.30 L398.1,473.00 L398.9,473.00 L398.9,473.50 L399.7,473.50 L399.7,471.23 L400.5,471.23 L400.5,471.52 L401.3,471.52 L401.3,473.50 L402.1,473.50 L402.1,472.70 L402.9,472.70 L402.9,473.50 L403.7,473.50 L403.7,473.50 L404.5,473.50 L404.5,473.50 L405.3,473.50 L405.3,472.70 L406.1,472.70 L406.1,473.50 L406.9,473.50 L406.9,469.71 L407.7,469.71 L407.7,469.99 L408.5,469.99 L408.5,469.95 L409.3,469.95 L409.3,471.93 L410.1,471.93 L410.1,471.90 L410.9,471.90 L410.9,472.19 L411.7,472.19 L411.7,471.80 L412.5,471.80 L412.5,472.39 L413.3,472.39 L413.3,471.94 L414.1,471.94 L414.1,472.12 L414.9,472.12 L414.9,471.76 L415.7,471.76 L415.7,471.94 L416.5,471.94 L416.5,471.91 L417.3,471.91 L417.3,471.77 L418.1,471.77 L418.1,471.75 L418.9,471.75 L418.9,471.63 L419.7,471.63 L419.7,472.76 L420.5,472.76 L420.5,472.02 L421.3,472.02 L421.3,472.83 L422.1,472.83 L422.1,472.77 L422.9,472.77 L422.9,472.77 L423.7,472.77 L423.7,472.86 L424.5,472.86 L424.5,472.61 L425.3,472.61 L425.3,472.47 L426.1,472.47 L426.1,470.47 L426.9,470.47 L426.9,470.14 L427.7,470.14 L427.7,470.82 L428.5,470.82 L428.5,470.65 L429.3,470.65 L429.3,470.91 L430.1,470.91 L430.1,470.23 L430.9,470.23 L430.9,470.17 L431.7,470.17 L431.7,470.11 L432.5,470.11 L432.5,470.05 L433.3,470.05 L433.3,470.50 L434.1,470.50 L434.1,472.14 L434.9,472.14 L434.9,472.44 L435.7,472.44 L435.7,472.64 L436.5,472.64 L436.5,472.38 L437.3,472.38 L437.3,472.60 L438.1,472.60 L438.1,472.20 L438.9,472.20 L438.9,472.77 L439.7,472.77 L439.7,472.52 L440.5,472.52 L440.5,472.68 L441.3,472.68 L441.3,472.81 L442.1,472.81 L442.1,472.74 L442.9,472.74 L442.9,468.57 L443.7,468.57 L443.7,467.11 L444.5,467.11 L444.5,467.88 L445.3,467.88 L445.3,464.52 L446.1,464.52 L446.1,464.77 L446.9,464.77 L446.9,464.77 L447.7,464.77 L447.7,464.98 L448.5,464.98 L448.5,464.95 L449.3,464.95 L449.3,464.91 L450.1,464.91 L450.1,463.56 L450.9,463.56 L450.9,462.58 L451.7,462.58 L451.7,463.49 L452.5,463.49 L452.5,465.90 L453.3,465.90 L453.3,466.28 L454.1,466.28 L454.1,465.79 L454.9,465.79 L454.9,466.70 L455.7,466.70 L455.7,469.18 L456.5,469.18 L456.5,468.37 L457.3,468.37 L457.3,469.03 L458.1,469.03 L458.1,469.89 L458.9,469.89 L458.9,469.84 L459.7,469.84 L459.7,469.07 L460.5,469.07 L460.5,469.97 L461.3,469.97 L461.3,471.31 L462.1,471.31 L462.1,471.59 L462.9,471.59 L462.9,471.58 L463.7,471.58 L463.7,471.34 L464.5,471.34 L464.5,471.65 L465.3,471.65 L465.3,471.05 L466.1,471.05 L466.1,471.36 L466.9,471.36 L466.9,470.73 L467.7,470.73 L467.7,471.31 L468.5,471.31 L468.5,471.00 L469.3,471.00 L469.3,471.25 L470.1,471.25 L470.1,470.85 L470.9,470.85 L470.9,470.87 L471.7,470.87 L471.7,471.04 L472.5,471.04 L472.5,471.73 L473.3,471.73 L473.3,471.34 L474.1,471.34 L474.1,471.56 L474.9,471.56 L474.9,471.20 L475.7,471.20 L475.7,471.45 L476.5,471.45 L476.5,471.29 L477.3,471.29 L477.3,471.55 L478.1,471.55 L478.1,471.67 L478.9,471.67 L478.9,471.40 L479.7,471.40 L479.7,472.70 L480.5,472.70 L480.5,472.96 L481.3,472.96 L481.3,472.60 L482.1,472.60 L482.1,473.10 L482.9,473.10 L482.9,472.42 L483.7,472.42 L483.7,473.50 L484.5,473.50 L484.5,472.49 L485.3,472.49 L485.3,472.55 L486.1,472.55 L486.1,473.50 L486.9,473.50 L486.9,473.50 L487.7,473.50 L487.7,473.20 L488.5,473.20 L488.5,473.20 L489.3,473.20 L489.3,473.50 L490.1,473.50 L490.1,473.50 L490.9,473.50 L490.9,472.70 L491.7,472.70 L491.7,473.50 L492.5,473.50 L492.5,473.00 L493.3,473.00 L493.3,472.70 L494.1,472.70 L494.1,473.00 L494.9,473.00 L494.9,473.00 L495.7,473.00 L495.7,470.06 L496.5,470.06 L496.5,470.22 L497.3,470.22 L497.3,470.79 L498.1,470.79 L498.1,470.59 L498.9,470.59 L498.9,470.55 L499.7,470.55 L499.7,472.38 L500.5,472.38 L500.5,472.15 L501.3,472.15 L501.3,472.32 L502.1,472.32 L502.1,472.70 L502.9,472.70 L502.9,472.34 L503.7,472.34 L503.7,472.71 L504.5,472.71 L504.5,472.68 L505.3,472.68 L505.3,472.53 L506.1,472.53 L506.1,472.52 L506.9,472.52 L506.9,472.48 L507.7,472.48 L507.7,472.71 L508.5,472.71 L508.5,472.43 L509.3,472.43 L509.3,472.70 L510.1,472.70 L510.1,472.49 L510.9,472.49 L510.9,472.27 L511.7,472.27 L511.7,473.00 L512.5,473.00 L512.5,473.50 L513.3,473.50 L513.0,473.5 Z" fill="#4a6086"/>
<text x="322.3" y="454.90000000000003" font-size="7.8" text-anchor="end" fill="#231f20" textLength="8.0" lengthAdjust="spacingAndGlyphs" stroke="#231f20" stroke-width="0.12">40</text>
<text x="322.3" y="474.7" font-size="7.8" text-anchor="end" fill="#231f20" textLength="4.0" lengthAdjust="spacingAndGlyphs" stroke="#231f20" stroke-width="0.12">0</text>
<line x1="347.3" y1="482.8" x2="441.2" y2="482.8" stroke="#111" stroke-width="0.7"/>
<rect x="347.3" y="480.8" width="1.90" height="3.80" fill="#111"/>
<line x1="354.3" y1="482.8" x2="355.7" y2="482.8" stroke="#4f74b5" stroke-width="1.3"/>
<line x1="366.8" y1="482.8" x2="368.2" y2="482.8" stroke="#4f74b5" stroke-width="1.3"/>
<line x1="380.3" y1="482.8" x2="381.7" y2="482.8" stroke="#4f74b5" stroke-width="1.3"/>
<line x1="401.5" y1="482.8" x2="402.9" y2="482.8" stroke="#4f74b5" stroke-width="1.3"/>
<line x1="427.8" y1="482.8" x2="429.2" y2="482.8" stroke="#4f74b5" stroke-width="1.3"/>
<rect x="386.0" y="479.4" width="10.20" height="6.20" fill="#111"/>
<rect x="405.3" y="479.4" width="1.60" height="6.50" fill="#111"/>
<rect x="410.3" y="479.4" width="1.70" height="6.50" fill="#111"/>
<rect x="417.4" y="479.4" width="2.20" height="6.50" fill="#111"/>
<rect x="420.4" y="479.4" width="2.00" height="6.50" fill="#111"/>
<rect x="432.2" y="479.4" width="3.00" height="6.20" fill="#111"/>
<rect x="435.2" y="480.8" width="6.00" height="3.70" fill="#111"/>
<text x="393.8" y="495.3" font-size="7.5" text-anchor="middle" fill="#231f20" textLength="19.3" lengthAdjust="spacingAndGlyphs" stroke="#231f20" stroke-width="0.12">Nr4a1</text>
<rect x="0" y="0" width="520" height="1" fill="#050505"/>
<rect x="518.8" y="0" width="1.2" height="533" fill="#000"/>
<rect x="0" y="531.6" width="520" height="1.4" fill="#000"/>
<rect x="0" y="0" width="1.5" height="533" fill="#464646"/>
</svg>
</body></html>
